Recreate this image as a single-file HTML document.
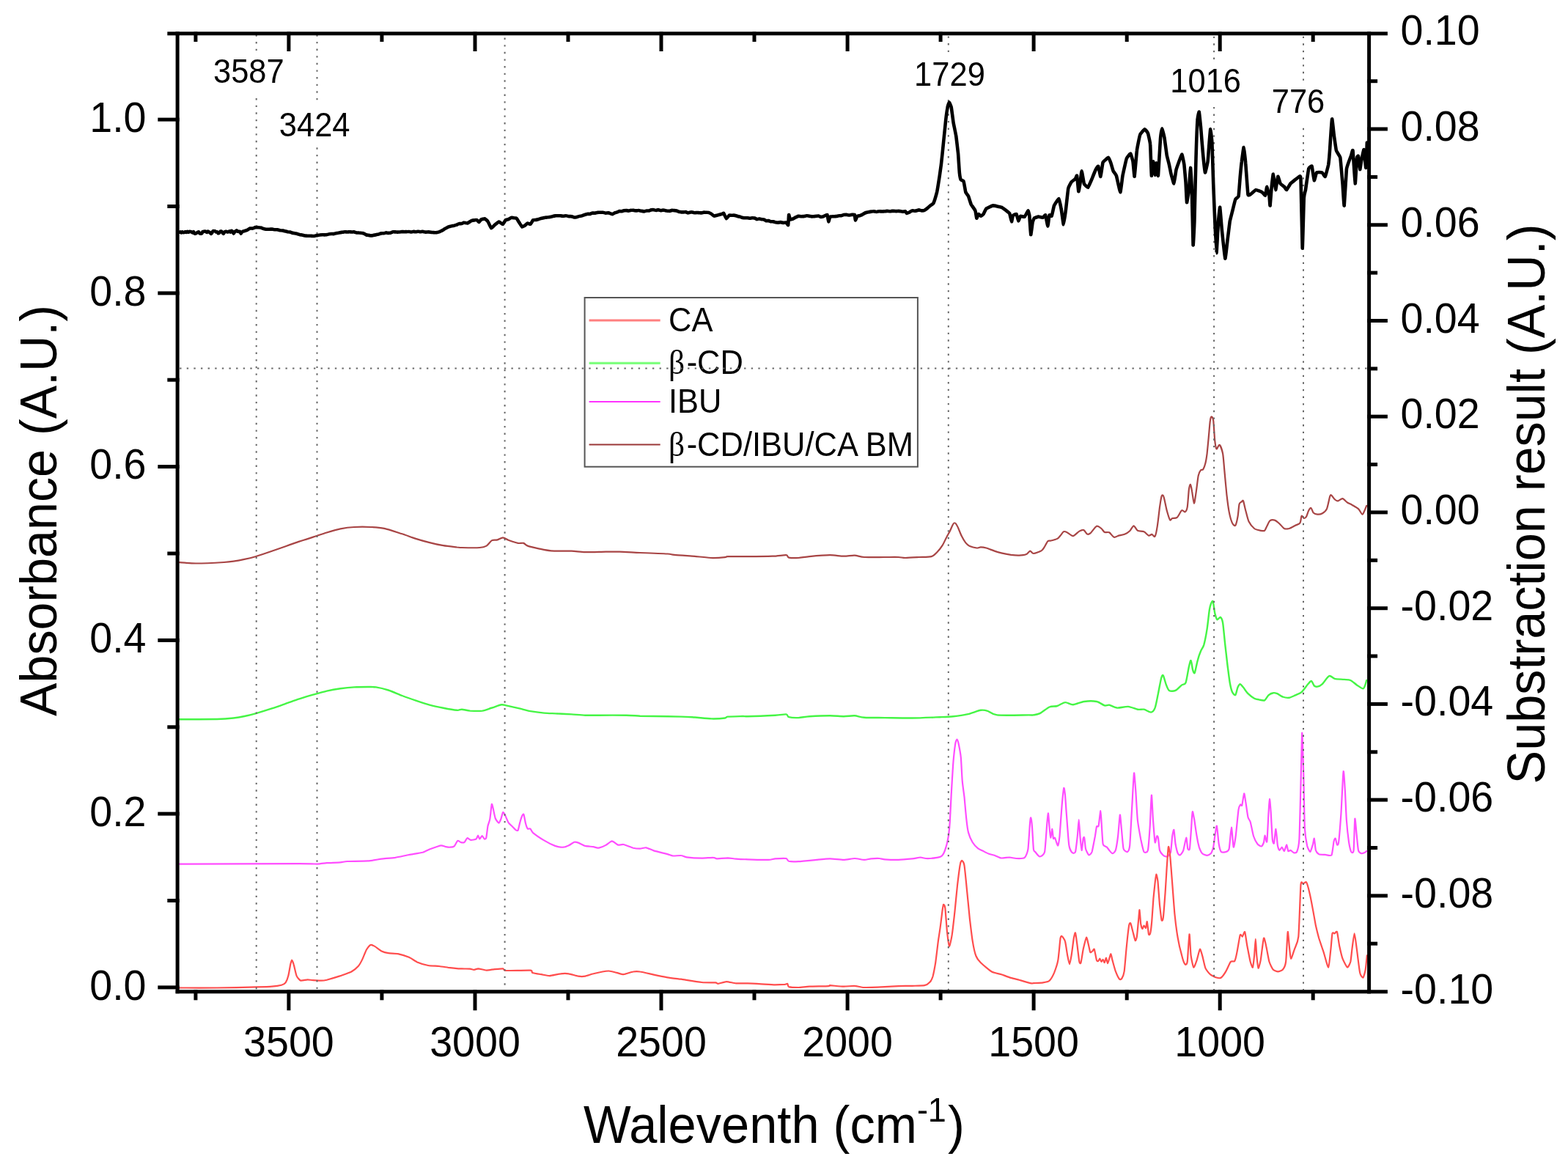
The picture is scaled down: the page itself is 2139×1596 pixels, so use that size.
<!DOCTYPE html>
<html><head><meta charset="utf-8"><title>FTIR spectra</title>
<style>
html,body{margin:0;padding:0;background:#fff;}
body{width:2139px;height:1596px;overflow:hidden;}
svg{display:block;}
text{font-family:"Liberation Sans", Arial, sans-serif;fill:#000;}
.t57{font-size:55.6px;}
.t42{font-size:43.5px;}
.t43{font-size:43.5px;}
.beta{font-family:"Liberation Serif", serif;}
.t68{font-size:68.6px;}
.sup{font-size:45px;}
.t68r{font-size:68.2px;}
.t70r{font-size:68.4px;}
</style></head>
<body>
<svg width="2139" height="1596" viewBox="0 0 2139 1596">
<rect width="100%" height="100%" fill="#fff"/>
<g>
<g fill="none" stroke-linejoin="round" stroke-linecap="round">
<path d="M244.7,767.2C247.8,767.4 259.9,768.6 268.1,768.5C276.2,768.5 298.7,767.4 305.5,767.0C312.2,766.7 314.8,766.3 318.5,765.7C322.3,765.2 329.5,763.8 333.5,762.9C337.5,762.1 343.5,760.7 348.5,759.2C353.4,757.7 365.4,753.6 370.9,751.7C376.4,749.8 384.6,746.9 389.6,745.2C394.6,743.4 403.3,740.3 408.3,738.6C413.3,737.0 422.0,734.3 427.0,732.6C432.0,731.0 440.7,728.0 445.7,726.5C450.7,725.0 459.4,722.4 464.4,721.4C469.4,720.4 477.6,719.3 483.1,719.0C488.6,718.7 500.1,718.7 505.5,719.0C511.0,719.2 518.5,719.6 524.2,720.9C530.0,722.1 542.8,726.5 548.6,728.3C554.3,730.2 562.3,733.3 567.3,734.9C572.2,736.5 581.0,738.9 586.0,740.1C590.9,741.4 599.7,743.4 604.7,744.2C609.6,745.1 620.0,746.1 623.4,746.5C626.7,746.8 625.9,747.0 630.0,747.0C634.1,747.1 649.8,747.4 654.3,747.0C658.8,746.7 661.4,745.9 663.7,744.6C665.9,743.3 669.1,738.2 671.1,737.1C673.1,736.0 676.6,736.9 678.6,736.4C680.6,735.9 684.1,733.3 686.1,733.4C688.1,733.4 690.8,735.8 693.6,736.8C696.3,737.7 703.9,740.3 706.7,740.9C709.4,741.4 712.4,740.4 714.2,740.9C715.9,741.4 717.0,743.6 719.8,744.6C722.5,745.6 730.5,747.4 734.7,748.3C739.0,749.2 745.6,750.9 751.6,751.3C757.5,751.8 773.4,751.5 779.6,751.7C785.8,752.0 792.1,753.1 798.3,753.2C804.5,753.3 820.1,752.7 826.4,752.6C832.6,752.6 838.8,752.5 845.1,752.6C851.3,752.8 864.4,753.6 873.1,754.0C881.8,754.3 904.3,755.1 910.5,755.5C916.7,755.9 914.9,756.5 919.9,756.9C924.8,757.4 940.9,758.3 947.9,758.8C954.9,759.4 966.7,760.9 972.2,761.1C977.7,761.2 986.3,760.4 989.0,760.1C991.8,759.9 989.5,759.3 992.8,759.2C996.0,759.1 1009.7,759.2 1013.4,759.2C1017.0,759.2 1014.6,759.2 1020.0,759.1C1025.4,759.1 1046.7,759.0 1053.7,758.7C1060.6,758.5 1069.4,757.0 1072.4,757.2C1075.4,757.5 1073.9,760.1 1076.1,760.6C1078.3,761.1 1085.5,761.2 1089.2,761.0C1092.9,760.8 1098.4,759.6 1104.2,759.1C1109.9,758.6 1126.0,757.3 1132.2,757.2C1138.4,757.2 1146.4,758.7 1150.9,758.7C1155.4,758.8 1162.1,757.4 1165.9,757.6C1169.6,757.8 1173.5,759.7 1179.0,760.0C1184.4,760.4 1200.8,760.0 1207.0,760.0C1213.2,760.0 1222.0,759.9 1225.7,760.0C1229.4,760.2 1231.3,761.0 1235.1,761.0C1238.8,761.0 1249.0,760.3 1253.8,760.0C1258.5,759.8 1267.3,760.0 1270.6,759.1C1273.8,758.2 1276.1,755.5 1278.1,753.5C1280.1,751.5 1283.8,746.9 1285.5,744.2C1287.3,741.4 1289.8,735.5 1291.2,732.9C1292.5,730.3 1294.7,726.8 1295.8,724.5C1297.0,722.3 1298.7,717.6 1299.6,716.1C1300.4,714.6 1301.5,713.0 1302.4,713.3C1303.2,713.5 1304.9,715.6 1306.1,718.0C1307.4,720.3 1310.2,728.1 1311.7,731.1C1313.2,734.1 1315.8,738.5 1317.3,740.4C1318.8,742.3 1321.0,744.1 1322.9,745.1C1324.9,746.0 1330.3,747.3 1332.3,747.5C1334.3,747.7 1336.2,746.4 1337.9,746.4C1339.7,746.4 1342.9,746.8 1345.4,747.5C1347.9,748.2 1353.9,750.7 1356.6,751.6C1359.3,752.6 1363.0,753.7 1366.0,754.4C1368.9,755.1 1375.8,756.4 1379.0,756.9C1382.3,757.3 1387.5,757.7 1390.3,757.6C1393.0,757.5 1397.6,757.1 1399.6,756.3C1401.6,755.5 1403.9,751.8 1405.2,751.6C1406.6,751.5 1407.8,755.1 1409.9,755.0C1412.0,754.9 1418.7,752.3 1420.8,751.1C1422.8,749.8 1423.9,747.4 1425.1,745.7C1426.2,744.0 1428.2,739.3 1429.4,738.2C1430.5,737.1 1431.9,738.0 1433.7,737.5C1435.4,737.1 1440.5,735.9 1442.3,734.9C1444.0,734.0 1445.4,731.9 1446.6,730.6C1447.7,729.4 1449.7,725.9 1450.9,725.3C1452.0,724.6 1453.4,725.1 1455.2,725.9C1456.9,726.7 1461.5,731.2 1463.8,731.1C1466.1,730.9 1470.4,725.7 1472.4,724.6C1474.3,723.6 1477.0,722.6 1478.4,723.1C1479.8,723.6 1481.9,727.9 1483.1,728.5C1484.3,729.1 1485.7,728.9 1487.4,727.4C1489.1,726.0 1494.0,718.6 1496.0,717.7C1498.0,716.9 1501.0,719.9 1502.5,721.0C1503.9,722.1 1505.3,725.2 1506.8,725.9C1508.2,726.6 1511.5,725.4 1513.2,726.3C1514.9,727.3 1518.0,732.2 1519.7,732.8C1521.4,733.4 1524.1,731.2 1526.1,730.6C1528.1,730.1 1532.7,729.4 1534.7,728.5C1536.7,727.6 1539.6,725.7 1541.2,724.2C1542.8,722.7 1545.1,717.4 1546.6,717.3C1548.0,717.3 1550.1,722.7 1551.9,723.8C1553.8,724.8 1558.5,724.4 1560.5,725.3C1562.5,726.2 1565.6,730.2 1567.0,730.6C1568.4,731.1 1570.1,728.8 1571.3,728.9C1572.4,729.1 1574.6,733.2 1575.6,731.7C1576.6,730.2 1578.0,723.0 1578.8,717.7C1579.7,712.4 1581.3,697.4 1582.0,691.9C1582.8,686.5 1583.9,678.8 1584.6,676.9C1585.3,674.9 1586.5,674.7 1587.4,677.3C1588.4,679.9 1590.6,692.0 1591.7,696.2C1592.9,700.5 1595.0,707.7 1596.0,709.1C1597.0,710.6 1598.0,707.4 1599.2,707.0C1600.5,706.6 1604.0,707.3 1605.7,705.9C1607.4,704.5 1610.7,697.2 1612.2,696.2C1613.6,695.2 1615.4,699.0 1616.5,698.4C1617.5,697.8 1619.0,695.9 1619.7,691.9C1620.4,687.9 1621.3,672.4 1621.8,668.3C1622.4,664.1 1623.4,660.5 1624.0,660.8C1624.6,661.0 1625.5,667.0 1626.1,670.4C1626.8,673.9 1628.2,686.3 1628.9,686.6C1629.6,686.8 1630.7,677.6 1631.5,672.6C1632.3,667.6 1633.9,653.1 1634.7,648.9C1635.6,644.8 1637.1,642.5 1638.0,641.4C1638.8,640.3 1640.3,641.6 1641.2,640.3C1642.0,639.0 1643.7,634.6 1644.4,631.7C1645.1,628.9 1646.0,623.4 1646.6,618.8C1647.1,614.2 1648.1,603.3 1648.7,597.3C1649.3,591.3 1650.3,577.5 1650.9,573.7C1651.4,569.8 1652.0,568.3 1652.6,568.3C1653.2,568.3 1654.5,569.2 1655.2,573.7C1655.8,578.1 1656.7,596.5 1657.3,601.6C1657.9,606.8 1658.6,611.6 1659.5,612.4C1660.3,613.1 1662.6,606.1 1663.8,607.0C1664.9,607.8 1667.2,614.4 1668.1,618.8C1668.9,623.3 1669.5,632.9 1670.2,640.3C1670.9,647.8 1672.6,667.0 1673.4,674.7C1674.3,682.5 1675.7,693.2 1676.7,698.4C1677.7,703.5 1679.8,711.0 1681.0,713.4C1682.1,715.9 1684.3,717.8 1685.3,716.7C1686.3,715.5 1687.8,708.7 1688.5,704.8C1689.2,701.0 1689.9,690.4 1690.6,687.6C1691.4,684.9 1693.2,685.0 1693.9,684.4C1694.6,683.8 1695.3,681.8 1696.0,683.3C1696.7,684.9 1698.2,692.5 1699.2,696.2C1700.3,700.0 1702.0,708.0 1703.5,711.3C1705.1,714.6 1708.9,719.3 1711.1,721.0C1713.2,722.6 1717.8,723.4 1719.7,723.8C1721.5,724.1 1723.9,724.6 1725.1,723.8C1726.2,723.0 1727.3,719.5 1728.3,717.7C1729.3,715.9 1731.1,711.3 1732.6,710.2C1734.0,709.1 1737.3,709.0 1739.0,709.6C1740.8,710.1 1743.8,713.0 1745.5,714.5C1747.2,716.0 1750.2,720.1 1751.9,721.0C1753.7,721.8 1756.4,721.5 1758.4,721.0C1760.4,720.4 1765.0,717.7 1767.0,716.7C1769.0,715.7 1772.3,715.2 1773.4,713.4C1774.6,711.7 1774.9,704.6 1775.6,703.8C1776.3,702.9 1778.0,706.8 1778.8,707.0C1779.7,707.1 1781.2,706.3 1782.0,704.8C1782.9,703.4 1784.4,697.8 1785.3,696.2C1786.1,694.7 1787.6,692.6 1788.5,693.0C1789.4,693.4 1790.6,698.3 1791.7,699.5C1792.9,700.6 1795.5,701.5 1797.1,701.6C1798.7,701.8 1801.8,701.5 1803.5,700.5C1805.3,699.5 1808.6,697.2 1810.0,694.1C1811.4,690.9 1813.4,679.3 1814.3,676.9C1815.2,674.4 1815.6,675.2 1816.5,675.8C1817.3,676.4 1819.6,680.2 1820.8,681.2C1821.9,682.2 1823.6,683.5 1825.1,683.3C1826.5,683.2 1829.8,679.8 1831.5,680.1C1833.2,680.4 1836.2,684.3 1838.0,685.5C1839.7,686.6 1842.4,687.6 1844.4,688.7C1846.4,689.9 1851.1,692.4 1853.0,694.1C1854.9,695.8 1857.2,701.3 1858.4,701.6C1859.5,701.9 1860.8,697.8 1861.6,696.2C1862.4,694.7 1863.8,690.6 1864.2,689.8" stroke="#a84545" stroke-width="2.2"/>
<path d="M244.7,981.3C251.5,981.3 286.3,981.2 296.1,981.0C305.9,980.7 313.6,980.0 318.5,979.5C323.5,979.0 329.5,977.9 333.5,977.0C337.5,976.2 343.5,974.7 348.5,973.3C353.4,971.9 365.4,968.2 370.9,966.4C376.4,964.6 384.6,961.6 389.6,959.8C394.6,958.1 403.3,954.9 408.3,953.3C413.3,951.7 422.0,949.1 427.0,947.7C432.0,946.3 440.7,943.8 445.7,942.6C450.7,941.5 459.4,940.0 464.4,939.3C469.4,938.6 478.1,937.7 483.1,937.4C488.1,937.1 497.8,937.0 501.8,937.0C505.8,937.0 509.3,936.8 513.0,937.4C516.8,938.0 525.1,940.0 529.9,941.5C534.6,943.1 543.6,947.1 548.6,949.0C553.5,950.9 562.3,954.0 567.3,955.7C572.2,957.4 581.0,960.4 586.0,961.7C590.9,963.1 599.7,964.9 604.7,965.8C609.6,966.8 620.0,968.6 623.4,968.8C626.7,969.1 627.6,967.6 630.0,967.7C632.4,967.8 637.5,969.3 641.2,969.6C645.0,969.8 654.1,970.1 658.1,969.6C662.0,969.0 667.6,966.5 671.1,965.5C674.6,964.4 681.5,961.7 684.2,961.3C687.0,961.0 688.5,962.0 691.7,962.6C695.0,963.3 704.3,965.4 708.5,966.4C712.8,967.4 719.0,969.3 723.5,970.1C728.0,970.9 737.2,972.1 742.2,972.6C747.2,973.0 755.9,973.2 760.9,973.5C765.9,973.7 774.6,974.1 779.6,974.4C784.6,974.7 793.3,975.6 798.3,975.7C803.3,975.9 809.5,975.7 817.0,975.7C824.5,975.7 846.9,975.6 854.4,975.7C861.9,975.9 868.1,976.5 873.1,976.7C878.1,976.8 884.3,976.9 891.8,977.0C899.3,977.2 921.7,977.4 929.2,977.6C936.7,977.8 942.4,978.2 947.9,978.5C953.4,978.9 964.9,980.3 970.3,980.4C975.8,980.5 986.1,979.9 989.0,979.5C992.0,979.1 989.5,977.9 992.8,977.6C996.0,977.3 1009.7,977.1 1013.4,977.0C1017.0,977.0 1014.1,977.4 1020.0,977.2C1025.9,977.1 1050.4,976.1 1057.4,975.7C1064.4,975.4 1069.9,974.1 1072.4,974.4C1074.9,974.8 1073.9,977.6 1076.1,978.2C1078.3,978.8 1085.5,979.2 1089.2,979.1C1092.9,979.0 1098.4,977.6 1104.2,977.2C1109.9,976.9 1126.0,976.3 1132.2,976.3C1138.4,976.3 1146.4,977.2 1150.9,977.2C1155.4,977.2 1162.1,976.1 1165.9,976.3C1169.6,976.5 1173.5,978.4 1179.0,978.7C1184.4,979.1 1198.3,979.0 1207.0,979.1C1215.7,979.2 1234.4,979.6 1244.4,979.5C1254.4,979.4 1274.3,978.5 1281.8,978.2C1289.3,977.9 1295.5,977.7 1300.5,977.2C1305.5,976.7 1314.2,975.6 1319.2,974.4C1324.2,973.3 1334.2,969.4 1337.9,968.8C1341.6,968.2 1344.3,968.9 1347.3,969.8C1350.2,970.6 1352.9,974.6 1360.3,975.4C1367.8,976.1 1396.7,975.4 1403.4,975.4C1410.0,975.4 1408.0,975.6 1410.0,975.3C1412.0,975.0 1415.7,974.6 1418.6,973.1C1421.5,971.7 1428.4,965.9 1431.5,964.5C1434.7,963.2 1439.4,963.9 1442.3,963.0C1445.1,962.2 1450.1,958.3 1453.0,958.1C1455.9,957.8 1460.3,961.4 1463.8,961.3C1467.2,961.1 1474.5,957.6 1478.8,957.0C1483.1,956.4 1492.3,956.3 1496.0,957.0C1499.7,957.7 1504.5,961.7 1506.8,962.4C1509.1,963.0 1510.9,961.3 1513.2,961.7C1515.5,962.2 1520.5,965.3 1524.0,965.6C1527.4,965.9 1535.3,963.6 1539.0,963.9C1542.8,964.2 1549.1,967.2 1551.9,967.7C1554.8,968.3 1558.1,967.2 1560.5,967.7C1563.0,968.3 1568.2,971.9 1570.2,971.6C1572.2,971.3 1574.3,969.0 1575.6,965.6C1576.9,962.2 1578.7,951.7 1579.9,946.2C1581.0,940.8 1583.3,928.0 1584.2,924.7C1585.1,921.4 1585.9,920.4 1586.8,921.5C1587.6,922.7 1589.6,930.6 1590.6,933.3C1591.7,936.1 1593.2,940.8 1594.9,941.9C1596.7,943.1 1601.3,942.9 1603.5,941.9C1605.8,940.9 1610.3,935.8 1612.2,934.4C1614.0,933.0 1616.2,934.5 1617.5,931.2C1618.8,927.9 1620.9,913.7 1621.8,909.7C1622.8,905.7 1623.9,900.5 1624.6,901.1C1625.3,901.6 1626.5,911.7 1627.2,914.0C1627.9,916.2 1628.9,919.6 1629.8,917.8C1630.6,916.1 1632.6,905.0 1633.7,901.1C1634.7,897.1 1636.8,891.0 1638.0,888.2C1639.1,885.3 1641.1,883.6 1642.3,879.6C1643.4,875.6 1645.6,864.4 1646.6,858.1C1647.6,851.8 1649.1,836.8 1649.8,832.3C1650.5,827.7 1651.3,825.2 1651.9,823.7C1652.6,822.1 1654.0,818.7 1654.7,820.4C1655.4,822.2 1656.5,833.3 1657.3,836.6C1658.1,839.9 1659.5,844.4 1660.5,845.2C1661.5,845.9 1663.8,841.4 1664.8,841.9C1665.8,842.5 1667.2,844.4 1668.1,849.5C1668.9,854.5 1670.4,871.8 1671.3,879.6C1672.2,887.3 1673.7,900.6 1674.5,907.5C1675.4,914.4 1676.9,926.3 1677.7,931.2C1678.6,936.1 1680.0,941.8 1681.0,944.1C1682.0,946.3 1684.3,948.8 1685.3,948.0C1686.3,947.1 1687.6,939.6 1688.5,937.6C1689.4,935.7 1690.7,933.3 1691.7,933.3C1692.7,933.3 1694.6,935.9 1696.0,937.6C1697.5,939.4 1700.5,944.2 1702.5,946.2C1704.5,948.2 1709.1,951.6 1711.1,952.7C1713.1,953.8 1715.7,954.1 1717.5,954.4C1719.4,954.8 1723.3,956.1 1725.1,955.3C1726.8,954.5 1728.9,949.7 1730.4,948.4C1732.0,947.0 1735.3,945.4 1736.9,945.2C1738.5,944.9 1740.5,945.5 1742.3,946.2C1744.0,947.0 1747.6,949.8 1749.8,950.5C1751.9,951.3 1756.1,952.1 1758.4,951.8C1760.7,951.5 1764.7,949.4 1767.0,948.4C1769.3,947.4 1773.3,946.1 1775.6,944.1C1777.9,942.1 1782.4,935.3 1784.2,933.3C1786.0,931.3 1787.8,928.7 1788.9,929.0C1790.1,929.3 1791.7,934.5 1792.8,935.5C1793.9,936.5 1795.7,936.8 1797.1,936.6C1798.5,936.3 1801.4,935.3 1803.5,933.3C1805.7,931.4 1810.9,923.2 1813.2,922.2C1815.5,921.1 1818.0,925.2 1820.8,925.8C1823.5,926.4 1830.8,926.6 1833.7,926.9C1836.5,927.2 1840.0,927.0 1842.3,928.0C1844.6,929.0 1848.6,932.9 1850.9,934.4C1853.2,935.9 1857.9,939.5 1859.5,939.4C1861.0,939.2 1862.1,934.9 1862.7,933.3C1863.3,931.8 1864.0,928.7 1864.2,928.0" stroke="#45f545" stroke-width="2.4"/>
<path d="M244.7,1178.6C261.0,1178.5 389.5,1178.2 408.3,1178.2C427.1,1178.2 428.9,1178.6 432.6,1178.6C436.4,1178.5 442.5,1177.5 445.7,1177.2C448.9,1177.0 461.6,1176.5 464.4,1176.3C467.2,1176.1 470.0,1175.2 473.8,1175.0C477.5,1174.8 497.1,1174.8 501.8,1174.4C506.5,1174.1 516.8,1172.1 520.5,1171.6C524.2,1171.2 535.5,1170.3 539.2,1169.8C542.9,1169.2 554.2,1166.7 557.9,1166.0C561.6,1165.3 573.8,1163.4 576.6,1162.7C579.4,1161.9 584.1,1159.3 586.0,1158.5C587.8,1157.8 593.7,1155.7 595.3,1155.2C596.9,1154.7 600.5,1153.3 601.9,1153.3C603.2,1153.3 607.2,1154.9 608.4,1155.2C609.6,1155.4 612.9,1155.8 614.0,1155.7C615.1,1155.7 618.6,1155.3 619.6,1154.4C620.6,1153.5 623.4,1147.5 624.3,1146.9C625.2,1146.4 628.0,1149.0 629.0,1149.2C629.9,1149.4 632.8,1149.4 633.6,1148.8C634.5,1148.2 636.5,1143.5 637.4,1143.2C638.2,1142.9 640.9,1145.7 642.2,1145.8C643.4,1146.0 648.6,1145.2 649.6,1144.5C650.6,1143.9 651.6,1139.5 652.1,1139.5C652.5,1139.5 653.7,1144.4 654.3,1144.5C654.9,1144.6 657.0,1140.2 657.7,1140.2C658.3,1140.2 660.3,1144.3 660.9,1144.5C661.4,1144.8 662.8,1144.4 663.3,1142.6C663.8,1140.9 665.0,1129.3 665.5,1126.8C666.0,1124.2 667.8,1120.4 668.3,1117.4C668.9,1114.4 670.3,1098.7 670.8,1097.2C671.2,1095.7 672.1,1100.5 672.6,1102.4C673.1,1104.4 675.0,1114.4 675.8,1116.5C676.6,1118.5 679.7,1122.5 680.5,1122.6C681.2,1122.7 682.7,1118.9 683.3,1117.4C683.9,1115.9 685.5,1108.6 686.1,1108.1C686.7,1107.5 688.2,1110.4 688.9,1111.8C689.7,1113.2 692.6,1120.5 693.6,1122.1C694.6,1123.7 698.2,1126.7 699.2,1127.7C700.2,1128.7 703.1,1131.9 703.9,1132.4C704.6,1132.8 706.1,1133.5 706.7,1132.4C707.2,1131.2 708.9,1123.1 709.5,1121.1C710.0,1119.2 711.8,1113.8 712.3,1112.7C712.8,1111.7 714.1,1109.8 714.5,1110.9C715.0,1111.9 716.4,1121.0 717.0,1123.0C717.5,1125.0 719.1,1129.7 719.8,1130.5C720.4,1131.2 722.8,1129.9 723.5,1130.5C724.2,1131.1 725.4,1134.5 727.2,1136.1C729.1,1137.7 739.2,1144.6 742.2,1146.4C745.2,1148.2 754.5,1152.9 757.2,1153.9C759.8,1154.8 766.5,1155.8 768.4,1155.7C770.3,1155.7 774.4,1154.0 775.9,1153.3C777.4,1152.6 782.0,1149.2 783.3,1148.8C784.7,1148.4 787.5,1149.1 789.0,1149.6C790.4,1150.1 796.2,1153.3 798.3,1153.9C800.4,1154.4 807.7,1154.9 809.5,1155.2C811.4,1155.5 815.3,1156.9 817.0,1156.7C818.7,1156.4 824.6,1153.9 826.4,1152.9C828.1,1152.0 833.1,1147.4 834.8,1147.3C836.5,1147.3 841.6,1152.1 843.2,1152.6C844.8,1153.0 848.6,1151.6 850.7,1152.0C852.7,1152.4 861.5,1156.1 863.8,1156.7C866.0,1157.2 871.3,1157.6 873.1,1157.6C874.9,1157.6 879.6,1156.0 881.5,1156.3C883.4,1156.6 888.9,1159.5 891.8,1160.4C894.7,1161.3 907.9,1164.4 910.5,1165.1C913.1,1165.8 916.1,1167.3 918.0,1167.5C919.9,1167.7 927.3,1166.8 929.2,1167.0C931.1,1167.1 933.9,1169.0 936.7,1169.4C939.5,1169.8 953.6,1170.7 957.3,1170.7C960.9,1170.7 971.1,1169.7 973.2,1169.8C975.2,1169.8 975.9,1171.2 977.8,1171.3C979.8,1171.3 990.2,1170.3 992.8,1170.3C995.4,1170.4 1001.3,1171.4 1004.0,1171.6C1006.7,1171.8 1015.6,1172.2 1020.0,1172.3C1024.4,1172.5 1044.3,1173.0 1048.1,1172.9C1051.8,1172.8 1055.0,1171.6 1057.4,1171.4C1059.8,1171.2 1070.5,1170.7 1072.4,1171.0C1074.2,1171.4 1074.4,1174.3 1076.1,1174.8C1077.8,1175.2 1085.5,1175.3 1089.2,1175.1C1092.9,1174.9 1109.2,1173.3 1113.5,1172.9C1117.8,1172.5 1128.5,1171.4 1132.2,1171.4C1135.9,1171.4 1147.5,1172.9 1150.9,1172.9C1154.3,1172.9 1163.1,1171.0 1165.9,1171.0C1168.7,1171.0 1176.7,1172.9 1179.0,1172.9C1181.2,1172.9 1186.2,1171.6 1188.3,1171.4C1190.4,1171.2 1197.7,1170.9 1199.5,1171.0C1201.4,1171.1 1204.4,1172.1 1207.0,1172.3C1209.6,1172.5 1222.0,1173.0 1225.7,1172.9C1229.4,1172.8 1241.4,1171.7 1244.4,1171.4C1247.4,1171.1 1253.8,1169.6 1255.6,1169.5C1257.5,1169.5 1260.9,1171.0 1263.1,1171.0C1265.3,1171.1 1275.8,1170.3 1278.1,1169.9C1280.3,1169.5 1284.3,1168.1 1285.5,1166.7C1286.8,1165.4 1289.4,1159.1 1290.2,1156.4C1291.1,1153.7 1293.4,1143.2 1294.0,1139.6C1294.5,1136.0 1295.5,1126.5 1295.8,1120.9C1296.2,1115.3 1297.2,1091.7 1297.7,1083.5C1298.2,1075.3 1299.9,1045.5 1300.5,1038.6C1301.1,1031.7 1302.8,1017.3 1303.3,1014.3C1303.8,1011.3 1305.1,1008.5 1305.6,1008.7C1306.0,1008.9 1307.5,1013.7 1308.0,1016.2C1308.5,1018.6 1310.3,1028.1 1310.8,1033.0C1311.3,1037.9 1312.2,1059.4 1312.7,1064.8C1313.1,1070.2 1314.9,1082.0 1315.5,1087.2C1316.0,1092.5 1317.7,1112.3 1318.3,1117.2C1318.8,1122.0 1320.2,1132.7 1321.1,1135.9C1321.9,1139.0 1325.4,1146.8 1326.7,1149.0C1328.0,1151.1 1332.7,1156.2 1334.2,1157.4C1335.7,1158.6 1340.1,1160.4 1341.6,1161.1C1343.1,1161.9 1347.6,1164.3 1349.1,1164.8C1350.6,1165.4 1354.9,1166.2 1356.6,1166.7C1358.3,1167.3 1363.9,1170.2 1366.0,1170.5C1368.0,1170.7 1375.1,1169.5 1377.2,1169.5C1379.2,1169.6 1384.5,1171.0 1386.5,1171.0C1388.6,1171.1 1396.2,1171.2 1397.7,1169.9C1399.3,1168.6 1401.7,1162.8 1402.4,1158.3C1403.1,1153.8 1404.5,1128.9 1404.9,1124.6C1405.2,1120.3 1405.8,1114.9 1406.2,1115.3C1406.5,1115.7 1407.7,1124.1 1408.0,1128.4C1408.4,1132.7 1409.5,1154.9 1409.9,1158.3C1410.3,1161.7 1411.3,1161.0 1412.2,1162.0C1413.0,1163.1 1417.3,1168.5 1418.6,1168.5C1419.9,1168.5 1424.1,1166.6 1425.1,1162.0C1426.0,1157.5 1427.8,1128.6 1428.3,1123.3C1428.8,1118.1 1429.7,1108.9 1430.0,1109.4C1430.3,1109.8 1431.2,1124.3 1431.5,1127.6C1431.8,1131.0 1432.8,1142.4 1433.2,1142.7C1433.6,1143.0 1435.0,1130.8 1435.4,1130.9C1435.7,1131.0 1436.5,1142.6 1436.9,1143.8C1437.2,1144.9 1438.6,1142.2 1439.0,1142.7C1439.5,1143.2 1440.8,1148.1 1441.2,1149.1C1441.6,1150.2 1442.9,1154.3 1443.3,1153.4C1443.8,1152.6 1444.9,1146.1 1445.5,1140.5C1446.0,1134.9 1448.1,1104.1 1448.7,1097.5C1449.3,1091.0 1450.9,1076.2 1451.3,1074.9C1451.7,1073.7 1452.6,1080.6 1453.0,1084.6C1453.4,1088.6 1454.6,1107.8 1455.2,1114.7C1455.7,1121.6 1457.6,1148.6 1458.4,1153.4C1459.1,1158.3 1461.8,1162.3 1462.7,1163.1C1463.5,1164.0 1466.3,1164.3 1467.0,1162.0C1467.7,1159.8 1469.3,1144.9 1469.8,1140.5C1470.3,1136.1 1471.4,1118.0 1471.7,1118.0C1472.1,1118.0 1473.1,1136.3 1473.4,1140.5C1473.8,1144.7 1475.2,1159.6 1475.6,1159.9C1476.0,1160.2 1477.4,1145.5 1477.7,1143.8C1478.1,1142.0 1478.9,1141.3 1479.2,1142.7C1479.6,1144.1 1480.4,1155.4 1481.0,1157.7C1481.6,1160.1 1484.4,1165.9 1485.3,1166.3C1486.1,1166.8 1488.7,1164.6 1489.6,1162.0C1490.4,1159.5 1493.2,1144.0 1493.9,1140.5C1494.5,1137.1 1495.5,1129.0 1496.0,1127.6C1496.5,1126.2 1498.1,1128.7 1498.6,1126.6C1499.1,1124.4 1501.0,1106.0 1501.4,1106.1C1501.8,1106.2 1502.6,1123.1 1502.9,1127.6C1503.2,1132.2 1504.1,1148.6 1504.6,1151.3C1505.1,1154.0 1507.3,1154.1 1507.8,1154.5C1508.4,1154.9 1509.5,1155.1 1510.0,1155.6C1510.5,1156.1 1512.5,1159.0 1513.2,1159.9C1514.0,1160.8 1516.7,1164.2 1517.5,1164.2C1518.4,1164.2 1521.1,1162.3 1521.8,1159.9C1522.6,1157.5 1524.5,1145.4 1525.1,1140.5C1525.7,1135.7 1527.4,1112.4 1527.8,1111.5C1528.3,1110.6 1529.5,1127.3 1530.0,1131.9C1530.5,1136.6 1531.8,1154.7 1532.6,1157.7C1533.4,1160.8 1537.1,1162.5 1538.0,1162.0C1538.8,1161.6 1540.5,1159.9 1541.2,1153.4C1541.8,1147.0 1543.8,1107.4 1544.4,1097.5C1545.0,1087.6 1546.5,1056.2 1547.0,1054.5C1547.5,1052.8 1548.9,1073.9 1549.4,1080.3C1549.8,1086.8 1551.2,1112.6 1551.9,1119.0C1552.6,1125.5 1555.4,1140.5 1556.2,1144.8C1557.1,1149.1 1559.6,1160.5 1560.5,1162.0C1561.5,1163.5 1565.1,1163.3 1565.9,1159.9C1566.7,1156.5 1568.2,1135.2 1568.7,1127.6C1569.2,1120.1 1570.4,1085.5 1570.9,1084.6C1571.3,1083.8 1572.5,1112.6 1573.0,1119.0C1573.5,1125.5 1575.1,1147.0 1575.6,1149.1C1576.1,1151.3 1577.7,1141.2 1578.2,1140.5C1578.6,1139.9 1579.5,1140.8 1579.9,1142.7C1580.3,1144.6 1581.4,1157.5 1582.0,1159.9C1582.7,1162.3 1585.5,1165.5 1586.3,1166.3C1587.2,1167.2 1589.9,1168.4 1590.6,1168.5C1591.4,1168.6 1593.2,1168.1 1593.9,1167.4C1594.5,1166.8 1596.6,1164.7 1597.1,1162.0C1597.6,1159.4 1598.8,1143.5 1599.2,1140.5C1599.7,1137.5 1601.0,1130.9 1601.4,1131.9C1601.8,1133.0 1603.0,1148.1 1603.5,1151.3C1604.1,1154.5 1606.1,1162.7 1606.8,1164.2C1607.4,1165.7 1609.2,1166.8 1610.0,1166.3C1610.8,1165.9 1613.5,1162.3 1614.3,1159.9C1615.1,1157.5 1617.6,1142.9 1618.2,1142.7C1618.8,1142.5 1619.8,1156.2 1620.3,1157.7C1620.8,1159.2 1622.4,1160.5 1622.9,1157.7C1623.4,1154.9 1624.7,1134.8 1625.1,1129.8C1625.4,1124.7 1626.3,1108.3 1626.8,1107.2C1627.2,1106.1 1628.8,1115.7 1629.4,1119.0C1629.9,1122.4 1631.9,1136.9 1632.6,1140.5C1633.2,1144.2 1635.1,1153.2 1635.8,1155.6C1636.6,1158.0 1639.0,1163.1 1640.1,1164.2C1641.2,1165.3 1645.4,1166.8 1646.6,1166.8C1647.7,1166.8 1651.1,1165.3 1651.9,1164.2C1652.8,1163.1 1654.6,1158.0 1655.2,1155.6C1655.7,1153.2 1656.8,1143.4 1657.3,1140.5C1657.8,1137.6 1659.4,1125.5 1659.9,1126.6C1660.4,1127.6 1662.1,1147.7 1662.7,1151.3C1663.3,1154.8 1664.9,1161.0 1665.9,1162.0C1666.9,1163.1 1671.3,1162.5 1672.4,1162.0C1673.4,1161.6 1675.9,1161.1 1676.7,1157.7C1677.4,1154.4 1679.3,1128.9 1679.9,1128.7C1680.5,1128.5 1682.1,1154.4 1682.7,1155.6C1683.3,1156.8 1685.0,1145.7 1685.7,1140.5C1686.4,1135.4 1688.9,1108.3 1689.6,1104.0C1690.2,1099.7 1691.7,1098.1 1692.2,1097.5C1692.6,1097.0 1693.8,1100.1 1694.3,1098.6C1694.8,1097.1 1696.6,1083.0 1697.1,1082.5C1697.6,1081.9 1698.7,1090.0 1699.2,1093.2C1699.8,1096.5 1701.8,1111.9 1702.5,1114.7C1703.1,1117.5 1704.9,1118.6 1705.7,1121.2C1706.5,1123.8 1709.0,1137.5 1710.0,1140.5C1711.0,1143.5 1714.3,1149.9 1715.4,1151.3C1716.5,1152.7 1719.9,1154.7 1720.8,1154.5C1721.6,1154.3 1723.5,1150.6 1724.0,1149.1C1724.5,1147.6 1725.1,1139.6 1725.5,1139.5C1725.9,1139.4 1727.8,1151.0 1728.3,1148.1C1728.8,1145.2 1730.1,1116.2 1730.4,1110.4C1730.8,1104.6 1731.6,1090.2 1731.9,1090.0C1732.3,1089.8 1733.3,1102.8 1733.7,1108.3C1734.0,1113.8 1735.4,1140.6 1735.8,1144.8C1736.2,1149.0 1737.5,1151.6 1738.0,1150.2C1738.4,1148.8 1740.0,1130.5 1740.5,1130.9C1741.0,1131.2 1742.4,1150.5 1742.9,1153.4C1743.4,1156.3 1744.9,1159.7 1745.5,1159.9C1746.1,1160.1 1748.1,1155.5 1748.7,1155.6C1749.4,1155.7 1751.3,1161.3 1751.9,1161.0C1752.6,1160.6 1754.6,1152.4 1755.2,1152.4C1755.7,1152.4 1756.8,1160.2 1757.3,1161.0C1757.8,1161.7 1759.8,1159.7 1760.5,1159.9C1761.3,1160.1 1764.0,1162.9 1764.8,1163.1C1765.7,1163.3 1768.4,1163.9 1769.1,1162.0C1769.9,1160.2 1771.8,1154.1 1772.4,1144.8C1772.9,1135.6 1774.1,1084.1 1774.5,1069.6C1774.9,1055.1 1775.9,1001.2 1776.2,999.7C1776.6,998.2 1777.8,1041.5 1778.2,1054.5C1778.5,1067.5 1779.4,1119.9 1779.9,1129.8C1780.4,1139.7 1782.4,1150.2 1783.1,1153.4C1783.9,1156.7 1786.6,1162.3 1787.4,1162.0C1788.2,1161.8 1790.5,1153.1 1791.1,1151.3C1791.6,1149.5 1792.4,1142.9 1792.8,1143.8C1793.2,1144.6 1794.3,1157.7 1794.9,1159.9C1795.6,1162.0 1798.0,1164.7 1799.2,1165.3C1800.5,1165.9 1806.1,1165.8 1807.8,1165.9C1809.6,1166.0 1815.3,1168.2 1816.5,1166.3C1817.6,1164.5 1819.1,1149.2 1819.7,1147.0C1820.2,1144.7 1821.4,1143.2 1821.8,1143.8C1822.3,1144.3 1823.5,1151.8 1824.0,1152.4C1824.4,1152.9 1825.6,1153.3 1826.1,1149.1C1826.7,1144.9 1828.7,1120.1 1829.4,1110.4C1830.0,1100.8 1832.0,1055.8 1832.6,1052.4C1833.1,1048.9 1834.3,1069.4 1834.7,1076.0C1835.2,1082.7 1836.3,1111.7 1836.9,1119.0C1837.4,1126.3 1839.5,1144.8 1840.1,1149.1C1840.8,1153.4 1842.7,1161.0 1843.3,1162.0C1844.0,1163.1 1846.1,1164.4 1846.6,1159.9C1847.1,1155.4 1847.9,1119.2 1848.3,1116.9C1848.7,1114.5 1850.0,1131.9 1850.4,1136.2C1850.9,1140.5 1852.3,1157.1 1853.0,1159.9C1853.7,1162.7 1856.5,1163.9 1857.3,1164.2C1858.2,1164.5 1860.9,1163.4 1861.6,1163.1C1862.3,1162.8 1863.9,1161.2 1864.2,1161.0" stroke="#ff4dff" stroke-width="2.2"/>
<path d="M244.7,1347.5C249.8,1347.5 285.5,1347.6 296.1,1347.5C306.7,1347.4 342.9,1346.6 350.3,1346.4C357.8,1346.2 367.5,1345.9 370.9,1345.6C374.3,1345.4 382.1,1344.3 384.0,1343.8C385.9,1343.3 388.7,1341.7 389.6,1340.4C390.5,1339.1 392.7,1333.5 393.3,1331.1C394.0,1328.6 395.7,1318.3 396.1,1316.1C396.6,1314.0 397.6,1309.6 398.0,1309.6C398.5,1309.6 400.2,1314.0 400.8,1316.1C401.5,1318.3 403.6,1328.9 404.6,1331.1C405.5,1333.2 408.7,1337.1 410.2,1337.6C411.7,1338.1 417.8,1336.3 419.5,1336.3C421.2,1336.3 425.1,1337.1 427.0,1337.2C428.9,1337.4 436.4,1337.7 438.2,1337.6C440.1,1337.6 443.1,1337.3 445.7,1336.7C448.3,1336.0 461.0,1332.2 464.4,1331.1C467.8,1329.9 476.9,1326.8 479.4,1325.5C481.8,1324.1 487.2,1319.7 488.7,1318.0C490.2,1316.3 493.2,1310.9 494.3,1308.6C495.4,1306.4 498.8,1297.5 499.9,1295.5C501.1,1293.6 504.4,1289.5 505.5,1289.0C506.7,1288.5 509.7,1290.0 511.2,1290.9C512.7,1291.7 518.6,1296.5 520.5,1297.4C522.4,1298.3 527.6,1299.8 529.9,1300.2C532.1,1300.6 540.1,1300.6 542.9,1301.1C545.8,1301.7 555.3,1304.7 557.9,1305.8C560.5,1306.9 566.5,1311.2 569.1,1312.4C571.7,1313.5 581.1,1316.5 584.1,1317.0C587.1,1317.6 596.1,1317.7 599.0,1318.0C602.0,1318.3 611.4,1319.9 614.0,1320.2C616.6,1320.6 623.6,1321.2 625.2,1321.3C626.8,1321.4 628.4,1321.3 630.0,1321.3C631.6,1321.4 639.5,1321.6 641.2,1321.7C642.9,1321.9 645.7,1322.9 646.8,1322.8C648.0,1322.8 650.8,1321.3 652.4,1321.3C654.1,1321.4 661.4,1323.5 663.7,1323.6C665.9,1323.7 672.6,1322.3 674.9,1322.1C677.1,1321.9 684.6,1321.2 686.1,1321.3C687.6,1321.5 686.1,1323.7 689.8,1324.0C693.6,1324.2 719.9,1323.3 723.5,1323.6C727.1,1323.9 724.8,1326.4 726.3,1326.9C727.8,1327.5 736.1,1328.8 738.5,1329.2C740.8,1329.6 747.1,1331.2 749.7,1331.1C752.3,1331.0 762.0,1328.5 764.6,1328.3C767.3,1328.0 773.4,1327.9 775.9,1328.3C778.3,1328.6 786.7,1331.3 789.0,1331.6C791.2,1332.0 796.2,1332.0 798.3,1331.6C800.4,1331.3 806.3,1329.0 809.5,1328.3C812.7,1327.5 826.9,1324.6 830.1,1324.5C833.3,1324.4 839.3,1326.5 841.3,1326.9C843.4,1327.4 848.4,1329.3 850.7,1329.2C852.9,1329.0 861.5,1325.8 863.8,1325.5C866.0,1325.1 870.3,1325.0 873.1,1325.5C875.9,1325.9 888.1,1328.8 891.8,1329.6C895.5,1330.4 906.8,1332.7 910.5,1333.3C914.2,1333.9 924.5,1335.1 929.2,1335.7C933.9,1336.4 952.6,1339.6 957.3,1340.0C961.9,1340.5 973.7,1340.2 976.0,1340.4C978.2,1340.6 978.2,1342.0 979.7,1341.9C981.2,1341.8 988.5,1339.2 990.9,1339.1C993.3,1339.0 1001.1,1341.1 1004.0,1341.3C1006.9,1341.6 1016.5,1341.3 1020.0,1341.4C1023.5,1341.5 1035.0,1342.1 1038.7,1342.3C1042.4,1342.5 1054.2,1343.2 1057.4,1343.3C1060.6,1343.3 1068.8,1343.0 1070.5,1342.9C1072.2,1342.7 1073.7,1341.4 1074.2,1341.8C1074.8,1342.1 1074.6,1345.5 1076.1,1346.1C1077.6,1346.6 1086.4,1347.0 1089.2,1347.0C1092.0,1347.0 1100.0,1345.9 1104.2,1345.7C1108.3,1345.5 1127.5,1345.3 1130.3,1345.1C1133.1,1345.0 1130.1,1344.1 1132.2,1344.2C1134.3,1344.3 1147.5,1345.6 1150.9,1345.7C1154.3,1345.8 1163.1,1344.6 1165.9,1344.8C1168.7,1344.9 1174.8,1346.9 1179.0,1347.0C1183.1,1347.1 1202.3,1346.3 1207.0,1346.1C1211.7,1345.9 1222.0,1345.3 1225.7,1345.1C1229.4,1345.0 1240.9,1344.9 1244.4,1344.8C1248.0,1344.7 1258.8,1344.7 1261.2,1344.2C1263.7,1343.7 1267.6,1340.7 1268.7,1339.5C1269.8,1338.3 1271.7,1334.7 1272.5,1332.0C1273.2,1329.4 1275.4,1318.2 1276.2,1313.3C1276.9,1308.5 1279.3,1288.3 1279.9,1283.4C1280.6,1278.6 1282.2,1268.8 1282.7,1264.7C1283.3,1260.6 1285.1,1245.4 1285.5,1242.3C1286.0,1239.2 1286.7,1234.2 1287.0,1233.9C1287.4,1233.5 1288.8,1234.7 1289.3,1238.5C1289.8,1242.4 1291.5,1267.0 1292.1,1272.2C1292.7,1277.4 1294.2,1290.5 1294.9,1290.9C1295.5,1291.3 1297.9,1280.6 1298.6,1275.9C1299.4,1271.3 1301.6,1251.1 1302.4,1244.2C1303.1,1237.2 1305.4,1213.3 1306.1,1206.8C1306.9,1200.2 1309.2,1182.0 1309.9,1178.7C1310.5,1175.4 1311.7,1173.8 1312.3,1174.0C1312.8,1174.2 1314.8,1176.4 1315.5,1180.6C1316.2,1184.8 1318.5,1208.8 1319.2,1216.1C1320.0,1223.4 1322.2,1246.8 1322.9,1253.5C1323.7,1260.2 1325.8,1278.4 1326.7,1283.4C1327.5,1288.5 1330.2,1301.0 1331.4,1304.0C1332.5,1307.0 1335.8,1311.2 1337.9,1313.3C1340.1,1315.5 1350.1,1323.9 1352.9,1325.5C1355.7,1327.1 1363.3,1328.4 1366.0,1329.2C1368.6,1330.1 1376.6,1333.2 1379.0,1333.9C1381.5,1334.7 1387.5,1336.0 1390.3,1336.7C1393.1,1337.5 1405.1,1341.0 1407.1,1341.4C1409.1,1341.8 1408.4,1341.2 1410.0,1341.1C1411.6,1341.0 1420.8,1340.8 1422.9,1340.4C1425.1,1340.1 1430.0,1339.2 1431.5,1337.8C1433.0,1336.5 1436.8,1329.9 1438.0,1327.1C1439.1,1324.3 1442.5,1314.6 1443.3,1309.9C1444.2,1305.2 1446.0,1283.1 1446.6,1279.8C1447.1,1276.5 1448.1,1276.8 1448.7,1277.2C1449.4,1277.6 1452.3,1281.5 1453.0,1284.1C1453.8,1286.7 1455.6,1300.3 1456.2,1303.4C1456.8,1306.6 1458.5,1315.3 1459.0,1315.3C1459.6,1315.3 1461.0,1307.0 1461.6,1303.4C1462.2,1299.9 1464.3,1282.9 1464.8,1279.8C1465.4,1276.7 1466.6,1271.6 1467.0,1272.3C1467.4,1272.9 1468.6,1282.3 1469.1,1286.2C1469.7,1290.2 1471.8,1309.4 1472.4,1312.0C1472.9,1314.7 1474.0,1314.8 1474.5,1313.1C1475.1,1311.4 1477.0,1298.3 1477.7,1294.8C1478.5,1291.4 1481.3,1279.1 1482.0,1278.7C1482.8,1278.3 1484.7,1288.5 1485.3,1290.5C1485.8,1292.6 1486.9,1298.5 1487.4,1299.1C1488.0,1299.8 1490.1,1297.4 1490.6,1297.0C1491.2,1296.6 1492.3,1293.5 1492.8,1294.8C1493.3,1296.1 1495.5,1308.3 1496.0,1309.9C1496.6,1311.5 1497.7,1311.2 1498.2,1311.0C1498.6,1310.8 1499.9,1307.6 1500.3,1307.7C1500.8,1307.8 1502.0,1311.9 1502.5,1312.0C1502.9,1312.2 1504.2,1308.7 1504.6,1308.8C1505.1,1308.9 1506.3,1313.3 1506.8,1313.1C1507.2,1312.9 1508.5,1306.6 1508.9,1306.7C1509.4,1306.8 1510.6,1314.1 1511.1,1314.2C1511.5,1314.3 1512.8,1309.0 1513.2,1307.7C1513.7,1306.5 1514.9,1301.1 1515.4,1301.3C1515.8,1301.5 1516.9,1307.5 1517.5,1309.9C1518.2,1312.3 1520.9,1322.4 1521.8,1324.9C1522.8,1327.5 1526.3,1334.7 1527.2,1335.7C1528.1,1336.7 1529.8,1335.7 1530.4,1334.6C1531.1,1333.5 1533.0,1329.4 1533.7,1324.9C1534.3,1320.5 1536.2,1296.8 1536.9,1290.5C1537.5,1284.3 1539.6,1265.7 1540.1,1262.6C1540.6,1259.5 1541.7,1258.5 1542.3,1259.4C1542.8,1260.2 1544.8,1268.8 1545.5,1271.2C1546.1,1273.5 1548.2,1282.4 1548.7,1283.0C1549.2,1283.7 1550.4,1280.3 1550.9,1277.6C1551.3,1274.9 1552.6,1259.8 1553.0,1256.1C1553.4,1252.5 1554.2,1240.6 1554.5,1241.1C1554.8,1241.5 1555.8,1257.8 1556.2,1260.4C1556.6,1263.0 1558.0,1266.7 1558.4,1266.9C1558.8,1267.1 1560.1,1262.7 1560.5,1262.6C1561.0,1262.5 1562.7,1266.3 1563.1,1265.8C1563.5,1265.3 1564.5,1256.3 1564.8,1257.2C1565.2,1258.1 1566.6,1272.8 1567.0,1274.4C1567.4,1276.0 1568.7,1275.2 1569.1,1273.3C1569.6,1271.5 1570.9,1260.9 1571.3,1256.1C1571.7,1251.4 1573.0,1231.2 1573.4,1226.0C1573.9,1220.9 1575.2,1207.8 1575.6,1204.5C1576.0,1201.2 1576.9,1192.9 1577.3,1192.7C1577.7,1192.5 1579.0,1198.2 1579.5,1202.4C1579.9,1206.6 1581.5,1229.4 1582.0,1234.6C1582.6,1239.9 1584.2,1253.3 1584.6,1255.1C1585.1,1256.8 1586.3,1255.6 1586.8,1251.8C1587.3,1248.1 1589.1,1224.3 1589.6,1217.4C1590.1,1210.5 1591.3,1189.2 1591.7,1183.0C1592.2,1176.8 1593.4,1156.8 1593.9,1155.1C1594.3,1153.3 1595.5,1161.3 1596.0,1165.8C1596.5,1170.3 1598.2,1192.0 1598.8,1200.2C1599.5,1208.4 1601.7,1239.6 1602.5,1247.5C1603.3,1255.5 1605.8,1274.2 1606.8,1279.8C1607.7,1285.4 1611.2,1299.9 1612.2,1303.4C1613.1,1307.0 1615.7,1314.4 1616.5,1315.3C1617.2,1316.1 1619.1,1316.1 1619.7,1312.0C1620.3,1308.0 1622.0,1275.3 1622.5,1274.4C1623.0,1273.5 1624.0,1298.9 1624.6,1303.4C1625.2,1308.0 1627.5,1318.9 1628.3,1319.6C1629.1,1320.2 1631.7,1312.4 1632.6,1309.9C1633.4,1307.4 1636.1,1295.5 1636.9,1294.8C1637.6,1294.2 1639.4,1300.9 1640.1,1303.4C1640.9,1306.0 1643.3,1318.1 1644.4,1320.6C1645.5,1323.2 1649.4,1328.0 1650.9,1329.2C1652.4,1330.5 1658.0,1333.1 1659.5,1333.5C1661.0,1334.0 1664.6,1334.4 1665.9,1333.5C1667.2,1332.7 1671.1,1327.1 1672.4,1324.9C1673.7,1322.8 1677.6,1313.4 1678.8,1312.0C1680.0,1310.6 1683.3,1312.3 1684.2,1311.0C1685.1,1309.7 1686.7,1302.7 1687.4,1299.1C1688.2,1295.6 1691.0,1277.6 1691.7,1275.5C1692.5,1273.3 1694.3,1278.1 1694.9,1277.6C1695.6,1277.2 1697.5,1269.9 1698.2,1271.2C1698.8,1272.5 1700.6,1286.5 1701.4,1290.5C1702.2,1294.6 1704.9,1309.1 1705.7,1312.0C1706.5,1314.9 1708.4,1320.4 1708.9,1319.6C1709.5,1318.7 1710.7,1307.3 1711.1,1303.4C1711.5,1299.6 1712.5,1280.9 1712.8,1280.9C1713.1,1280.9 1713.9,1299.5 1714.3,1303.4C1714.7,1307.4 1715.9,1320.0 1716.5,1320.6C1717.0,1321.3 1718.9,1314.0 1719.7,1309.9C1720.4,1305.8 1723.2,1281.7 1724.0,1279.8C1724.7,1277.8 1726.5,1287.3 1727.2,1290.5C1728.0,1293.8 1730.5,1308.8 1731.5,1312.0C1732.5,1315.3 1735.7,1321.5 1736.9,1322.8C1738.1,1324.1 1742.0,1325.4 1743.3,1325.4C1744.6,1325.4 1748.7,1324.1 1749.8,1322.8C1750.9,1321.5 1753.4,1317.2 1754.1,1312.0C1754.8,1306.9 1756.2,1273.3 1756.7,1271.2C1757.1,1269.0 1758.4,1286.9 1758.8,1290.5C1759.2,1294.2 1760.3,1307.3 1761.0,1307.7C1761.7,1308.2 1764.9,1297.8 1765.9,1294.8C1766.9,1291.8 1770.4,1286.5 1771.3,1277.6C1772.2,1268.8 1773.9,1213.9 1774.5,1206.7C1775.2,1199.5 1777.0,1205.9 1777.7,1205.6C1778.5,1205.3 1781.2,1202.3 1782.0,1203.4C1782.9,1204.6 1785.5,1213.9 1786.3,1217.4C1787.2,1221.0 1789.8,1234.4 1790.6,1238.9C1791.5,1243.4 1794.1,1258.5 1794.9,1262.6C1795.8,1266.7 1798.2,1276.1 1799.2,1279.8C1800.3,1283.4 1804.4,1295.2 1805.7,1299.1C1807.0,1303.1 1811.2,1320.0 1812.2,1319.6C1813.1,1319.1 1814.8,1299.5 1815.4,1294.8C1815.9,1290.2 1817.0,1275.5 1817.5,1273.3C1818.1,1271.2 1820.1,1273.5 1820.8,1273.3C1821.4,1273.1 1823.3,1269.5 1824.0,1271.2C1824.6,1272.9 1826.5,1286.9 1827.2,1290.5C1828.0,1294.2 1830.4,1304.8 1831.5,1307.7C1832.6,1310.6 1836.9,1319.1 1838.0,1319.6C1839.0,1320.0 1841.6,1314.5 1842.3,1312.0C1842.9,1309.6 1843.9,1298.7 1844.4,1294.8C1844.9,1291.0 1847.0,1273.3 1847.6,1273.3C1848.3,1273.3 1850.1,1289.5 1850.9,1294.8C1851.6,1300.2 1854.3,1323.2 1855.2,1327.1C1856.0,1331.0 1858.7,1334.0 1859.5,1333.5C1860.2,1333.1 1862.2,1325.8 1862.7,1322.8C1863.2,1319.8 1864.6,1305.4 1864.8,1303.4" stroke="#ff4d4d" stroke-width="2.2"/>
</g>
<rect x="797.6" y="406" width="454.3" height="230.7" fill="none" stroke="#555" stroke-width="2"/>
<line x1="803.6" y1="437.0" x2="900.7" y2="437.0" stroke="#ff7f7f" stroke-width="3.2"/>
<text transform="translate(912.0,451.9) scale(1,1.045)" class="t43">CA</text>
<line x1="803.6" y1="495.4" x2="900.7" y2="495.4" stroke="#7fff7f" stroke-width="3.2"/>
<text transform="translate(912.0,509.6) scale(1,1.045)" class="t43"><tspan class="beta">&#946;</tspan><tspan dx="2.5">-CD</tspan></text>
<line x1="803.6" y1="548.0" x2="900.7" y2="548.0" stroke="#ff33ff" stroke-width="2.2"/>
<text transform="translate(912.0,563.0) scale(1,1.045)" class="t43">IBU</text>
<line x1="803.6" y1="606.5" x2="900.7" y2="606.5" stroke="#9a3838" stroke-width="2.2"/>
<text transform="translate(912.0,621.8) scale(1,1.045)" class="t43"><tspan class="beta">&#946;</tspan><tspan dx="2.5">-CD/IBU/CA BM</tspan></text>
<g stroke="#666" stroke-width="2" fill="none">
<line x1="349.7" y1="45.8" x2="349.7" y2="1350.3" stroke-dasharray="2.4 7.225" stroke-dashoffset="8.05"/>
<line x1="432.5" y1="45.8" x2="432.5" y2="1350.3" stroke-dasharray="2.4 7.225" stroke-dashoffset="8.15"/>
<line x1="688.6" y1="45.8" x2="688.6" y2="1350.3" stroke-dasharray="2.4 7.225" stroke-dashoffset="3.85"/>
<line x1="1293.8" y1="45.8" x2="1293.8" y2="1350.3" stroke-dasharray="2.4 7.225" stroke-dashoffset="6.05"/>
<line x1="1656.1" y1="45.8" x2="1656.1" y2="1350.3" stroke-dasharray="2.4 7.225" stroke-dashoffset="5.75"/>
<line x1="1778.0" y1="45.8" x2="1778.0" y2="1350.3" stroke-dasharray="2.4 7.225" stroke-dashoffset="5.75"/>
<line x1="244.6" y1="502.5" x2="1865.1" y2="502.5" stroke-dasharray="2.4 7.225" stroke-dashoffset="9.15"/>
</g>
<g fill="none" stroke-linejoin="round" stroke-linecap="round">
<path d="M244.5,316.8C244.6,316.8 245.8,316.4 245.9,316.4C246.0,316.4 247.2,317.5 247.3,317.5C247.4,317.5 248.6,316.2 248.7,316.2C248.8,316.1 250.0,317.1 250.1,317.2C250.2,317.2 251.4,316.8 251.5,316.7C251.6,316.7 252.8,316.0 252.9,316.0C253.0,316.1 254.2,317.0 254.3,317.0C254.4,317.0 255.6,315.9 255.7,315.9C255.8,315.9 257.0,316.8 257.1,316.8C257.2,316.8 258.4,316.0 258.5,315.9C258.6,315.9 259.8,315.9 259.9,316.0C260.0,316.0 261.2,316.6 261.3,316.7C261.4,316.7 262.6,317.5 262.7,317.5C262.8,317.5 264.0,316.0 264.1,316.1C264.2,316.1 265.4,318.4 265.5,318.5C265.6,318.6 266.8,318.8 266.9,318.7C267.0,318.7 268.2,317.7 268.3,317.6C268.4,317.6 269.6,316.9 269.7,316.8C269.8,316.7 271.0,316.3 271.1,316.4C271.2,316.5 272.4,318.3 272.5,318.4C272.6,318.5 273.8,318.6 273.9,318.6C274.0,318.6 275.2,318.5 275.3,318.4C275.4,318.3 276.6,316.1 276.7,316.0C276.8,315.9 278.0,315.7 278.1,315.7C278.2,315.6 279.4,315.6 279.5,315.6C279.6,315.6 280.8,315.9 280.9,316.0C281.0,316.0 282.2,317.1 282.3,317.0C282.4,317.0 283.6,315.6 283.7,315.6C283.8,315.6 285.0,316.4 285.1,316.5C285.2,316.5 286.4,317.2 286.5,317.4C286.6,317.5 287.8,319.0 287.9,319.0C288.0,319.0 289.2,317.6 289.3,317.4C289.4,317.2 290.6,315.3 290.7,315.2C290.8,315.1 292.0,315.1 292.1,315.2C292.2,315.2 293.4,315.4 293.5,315.4C293.6,315.5 294.8,316.4 294.9,316.5C295.0,316.5 296.2,316.3 296.3,316.4C296.4,316.4 297.6,318.2 297.7,318.3C297.8,318.4 299.0,317.7 299.1,317.6C299.2,317.5 300.4,315.9 300.5,315.8C300.6,315.7 301.8,315.4 301.9,315.5C302.0,315.5 303.2,316.8 303.3,317.0C303.4,317.2 304.6,319.0 304.7,319.0C304.8,319.0 306.0,316.8 306.1,316.7C306.2,316.5 307.4,316.0 307.5,315.9C307.6,315.9 308.8,315.8 308.9,315.8C309.0,315.8 310.2,316.5 310.3,316.5C310.4,316.6 311.6,316.3 311.7,316.2C311.8,316.1 313.0,315.2 313.1,315.2C313.2,315.2 314.4,316.7 314.5,316.7C314.6,316.7 315.8,314.8 315.9,314.7C316.0,314.7 317.2,315.7 317.3,315.9C317.4,316.1 318.6,318.8 318.7,318.8C318.8,318.8 320.0,316.3 320.1,316.2C320.2,316.0 321.4,315.5 321.5,315.4C321.6,315.3 322.8,314.4 322.9,314.4C323.0,314.4 324.2,315.7 324.3,315.8C324.4,315.8 325.6,316.0 325.7,315.9C325.8,315.9 327.0,315.5 327.1,315.7C327.2,315.8 328.4,318.5 328.5,318.5C328.6,318.6 329.8,316.8 329.9,316.6C330.0,316.5 331.2,315.7 331.3,315.7C331.4,315.6 332.4,315.5 332.7,315.4C333.0,315.3 336.4,314.2 336.8,314.0C337.3,313.8 340.6,311.6 341.0,311.5C341.4,311.4 344.3,311.7 344.7,311.6C345.1,311.5 348.1,310.2 348.5,310.1C348.8,310.0 351.8,310.2 352.2,310.2C352.6,310.2 355.6,310.5 355.9,310.6C356.3,310.7 359.3,312.0 359.7,312.1C360.1,312.2 363.0,312.6 363.4,312.7C363.8,312.7 366.8,312.7 367.2,312.7C367.5,312.7 370.5,312.6 370.9,312.6C371.3,312.7 374.3,313.3 374.6,313.3C375.0,313.3 378.0,313.3 378.4,313.3C378.8,313.4 381.7,314.1 382.1,314.2C382.5,314.2 385.5,314.4 385.9,314.5C386.2,314.6 388.8,315.3 389.1,315.4C389.5,315.5 392.1,316.1 392.4,316.2C392.7,316.2 395.4,316.4 395.7,316.5C396.0,316.6 398.6,317.6 399.0,317.7C399.3,317.8 401.9,318.2 402.2,318.3C402.6,318.4 405.2,318.9 405.5,319.0C405.8,319.0 408.4,320.0 408.8,320.1C409.1,320.1 411.7,320.4 412.0,320.5C412.4,320.6 415.4,321.4 415.8,321.5C416.2,321.5 419.1,321.8 419.5,321.8C419.9,321.8 422.9,321.7 423.3,321.7C423.6,321.7 426.7,322.0 427.0,322.0C427.3,322.0 429.8,321.7 430.1,321.6C430.4,321.6 432.9,321.1 433.2,321.1C433.5,321.0 436.0,320.5 436.4,320.5C436.7,320.4 439.2,320.2 439.5,320.2C439.8,320.2 442.3,320.4 442.6,320.4C442.9,320.4 445.4,320.2 445.7,320.1C446.0,320.1 448.5,319.5 448.8,319.4C449.1,319.3 451.6,319.0 451.9,319.0C452.2,319.0 454.7,319.1 455.1,319.1C455.4,319.0 457.9,318.2 458.2,318.2C458.5,318.1 461.0,317.7 461.3,317.7C461.6,317.6 464.1,317.2 464.4,317.1C464.7,317.1 467.2,316.7 467.5,316.7C467.8,316.6 470.3,316.3 470.6,316.3C470.9,316.3 473.4,316.5 473.8,316.5C474.1,316.5 476.6,316.2 476.9,316.2C477.2,316.2 479.7,316.5 480.0,316.5C480.3,316.5 482.8,316.3 483.1,316.4C483.4,316.4 485.9,317.4 486.2,317.4C486.5,317.5 489.0,317.4 489.3,317.5C489.6,317.5 492.1,317.6 492.5,317.7C492.8,317.7 495.4,318.1 495.7,318.2C496.1,318.4 498.7,319.9 499.0,320.0C499.3,320.2 501.9,320.8 502.3,320.8C502.6,320.9 505.2,321.4 505.5,321.4C505.9,321.4 508.9,321.0 509.3,320.9C509.7,320.9 512.7,320.4 513.0,320.3C513.4,320.2 516.4,319.5 516.8,319.4C517.1,319.3 520.2,318.3 520.5,318.2C520.8,318.2 523.3,318.3 523.6,318.3C523.9,318.2 526.4,317.5 526.7,317.4C527.1,317.4 529.5,317.9 529.9,317.9C530.2,317.9 532.7,317.6 533.0,317.6C533.3,317.5 535.8,316.3 536.1,316.3C536.4,316.2 538.9,316.4 539.2,316.4C539.5,316.4 542.0,316.6 542.3,316.6C542.6,316.6 545.1,316.5 545.4,316.5C545.8,316.5 548.2,316.2 548.6,316.1C548.9,316.1 551.4,316.2 551.7,316.2C552.0,316.2 554.5,316.1 554.8,316.1C555.1,316.0 557.6,316.0 557.9,316.0C558.2,316.0 560.7,316.5 561.0,316.5C561.3,316.5 563.8,316.0 564.1,315.9C564.5,315.9 566.9,316.3 567.3,316.3C567.6,316.3 570.1,315.7 570.4,315.7C570.7,315.7 573.2,316.3 573.5,316.3C573.8,316.3 576.3,315.8 576.6,315.8C576.9,315.8 580.0,316.6 580.3,316.6C580.7,316.7 583.7,316.4 584.1,316.4C584.5,316.4 587.5,316.8 587.8,316.9C588.2,316.9 591.2,317.1 591.6,317.1C591.9,317.1 594.9,317.3 595.3,317.3C595.7,317.2 598.7,316.5 599.0,316.4C599.4,316.2 602.4,314.8 602.8,314.6C603.2,314.4 606.2,312.5 606.5,312.2C606.9,312.0 609.9,310.4 610.3,310.2C610.6,310.0 613.2,309.0 613.5,308.9C613.9,308.8 616.5,308.2 616.8,308.1C617.1,308.1 619.8,307.7 620.1,307.6C620.4,307.6 623.0,306.6 623.4,306.5C623.7,306.3 626.2,305.2 626.5,305.1C626.8,305.1 629.3,305.2 629.6,305.1C629.9,305.0 632.3,303.7 632.7,303.7C633.1,303.6 637.0,304.6 637.5,304.5C638.0,304.4 642.6,301.3 643.1,301.1C643.6,300.9 646.5,300.4 646.8,300.4C647.2,300.3 650.2,300.1 650.6,300.2C650.9,300.3 653.1,303.0 653.4,303.0C653.7,303.0 655.8,299.9 656.2,299.6C656.6,299.4 660.9,298.2 661.4,298.3C661.9,298.5 665.1,301.4 665.5,302.1C666.0,302.7 669.7,311.2 670.2,311.4C670.7,311.7 674.4,307.2 674.9,306.8C675.4,306.3 680.0,302.7 680.5,302.6C681.0,302.5 684.0,304.7 684.2,304.9C684.5,305.0 685.8,306.0 686.1,305.8C686.4,305.6 689.5,300.5 689.8,300.2C690.2,299.9 693.2,299.3 693.6,299.1C694.0,299.0 696.9,297.1 697.3,297.0C697.7,296.9 700.7,297.2 701.1,297.3C701.4,297.3 704.4,297.6 704.8,298.0C705.2,298.3 708.2,303.4 708.5,303.9C708.9,304.5 711.9,309.4 712.3,309.6C712.7,309.7 715.6,307.9 716.0,307.7C716.4,307.4 719.4,304.6 719.8,304.5C720.1,304.4 723.1,306.0 723.5,305.8C723.9,305.6 726.9,300.5 727.2,300.2C727.6,299.9 730.6,300.0 731.0,300.0C731.4,299.9 734.3,299.0 734.7,298.9C735.1,298.8 738.1,297.9 738.5,297.8C738.8,297.7 741.9,297.1 742.2,297.0C742.5,297.0 745.0,296.6 745.3,296.6C745.6,296.5 748.1,296.3 748.4,296.3C748.7,296.2 751.2,295.8 751.6,295.7C751.9,295.7 754.4,295.0 754.7,294.9C755.0,294.9 757.5,294.4 757.8,294.3C758.1,294.3 760.6,294.2 760.9,294.2C761.2,294.2 764.3,294.2 764.6,294.2C765.0,294.3 768.0,294.7 768.4,294.7C768.8,294.7 771.7,294.2 772.1,294.2C772.5,294.2 775.5,295.1 775.9,295.1C776.2,295.2 779.2,295.1 779.6,295.2C780.0,295.3 783.0,296.4 783.3,296.5C783.7,296.5 786.7,296.0 787.1,295.9C787.5,295.8 790.4,295.0 790.8,294.9C791.2,294.8 794.2,294.3 794.6,294.1C794.9,294.0 797.9,292.8 798.3,292.7C798.7,292.6 801.3,291.8 801.7,291.8C802.0,291.8 804.7,292.0 805.0,291.9C805.4,291.8 808.1,290.6 808.4,290.5C808.7,290.5 811.4,290.7 811.8,290.7C812.1,290.6 814.8,290.0 815.1,289.9C815.5,289.9 818.5,289.7 818.9,289.7C819.2,289.7 822.2,289.7 822.6,289.8C823.0,289.8 826.0,290.6 826.4,290.7C826.7,290.7 829.6,290.2 830.1,290.3C830.6,290.4 835.3,292.2 835.7,292.2C836.1,292.2 838.5,290.5 838.8,290.3C839.1,290.2 841.6,289.6 841.9,289.4C842.2,289.3 844.7,288.1 845.1,288.1C845.4,288.0 847.9,288.3 848.2,288.3C848.5,288.2 851.0,287.4 851.3,287.3C851.6,287.2 854.1,287.0 854.4,287.0C854.7,287.1 857.2,287.6 857.5,287.6C857.8,287.6 860.3,286.9 860.6,286.9C860.9,286.8 863.4,286.7 863.8,286.7C864.1,286.8 867.1,287.4 867.5,287.4C867.9,287.4 870.9,287.0 871.2,287.0C871.6,287.0 874.6,287.8 875.0,287.8C875.3,287.9 878.4,288.4 878.7,288.4C879.1,288.4 881.7,287.5 882.0,287.5C882.3,287.4 884.9,287.6 885.3,287.5C885.6,287.4 888.2,286.3 888.5,286.2C888.9,286.2 891.5,286.1 891.8,286.2C892.1,286.2 894.6,287.0 894.9,287.0C895.2,287.0 897.7,286.1 898.0,286.1C898.3,286.1 900.8,287.2 901.2,287.2C901.5,287.2 904.0,286.6 904.3,286.6C904.6,286.6 907.1,287.1 907.4,287.1C907.7,287.2 910.2,287.6 910.5,287.7C910.8,287.7 913.3,287.9 913.6,287.9C913.9,287.8 916.4,286.9 916.7,286.9C917.1,286.9 919.5,287.1 919.9,287.1C920.2,287.1 922.7,287.4 923.0,287.5C923.3,287.6 925.8,288.7 926.1,288.8C926.4,288.9 928.9,289.3 929.2,289.4C929.5,289.4 932.0,289.4 932.3,289.4C932.6,289.4 935.1,289.1 935.4,289.1C935.8,289.2 938.2,290.4 938.6,290.4C938.9,290.4 941.4,289.6 941.7,289.6C942.0,289.5 944.5,289.5 944.8,289.6C945.1,289.6 947.6,290.3 947.9,290.3C948.2,290.3 950.7,290.0 951.0,290.0C951.3,290.0 953.8,290.3 954.1,290.3C954.5,290.3 956.9,290.4 957.3,290.4C957.6,290.4 960.1,289.6 960.4,289.6C960.7,289.6 963.2,289.8 963.5,289.8C963.8,289.8 966.3,289.8 966.6,289.9C966.9,290.0 970.0,291.5 970.3,291.7C970.7,291.9 973.6,294.5 974.1,294.6C974.6,294.7 979.1,293.4 979.7,293.3C980.3,293.1 984.9,291.9 985.3,291.8C985.7,291.7 986.9,290.5 987.2,290.9C987.5,291.2 990.5,298.2 990.9,298.3C991.3,298.5 994.3,293.9 994.7,293.7C995.0,293.4 997.5,293.8 997.8,293.8C998.1,293.8 1000.6,293.6 1000.9,293.6C1001.2,293.6 1003.7,294.1 1004.0,294.2C1004.3,294.3 1006.8,295.1 1007.1,295.2C1007.4,295.3 1009.9,295.8 1010.2,295.9C1010.6,296.0 1013.0,297.0 1013.4,297.0C1013.7,297.1 1016.3,297.3 1016.7,297.3C1017.0,297.3 1019.7,297.3 1020.0,297.3C1020.3,297.3 1022.8,297.8 1023.1,297.8C1023.4,297.8 1025.9,297.2 1026.2,297.2C1026.5,297.2 1029.0,297.3 1029.4,297.4C1029.7,297.5 1032.2,299.0 1032.5,299.1C1032.8,299.1 1035.3,298.4 1035.6,298.5C1035.9,298.5 1038.4,299.1 1038.7,299.1C1039.0,299.2 1041.6,299.3 1041.9,299.4C1042.2,299.5 1044.8,301.1 1045.1,301.2C1045.4,301.3 1048.0,301.0 1048.3,301.0C1048.6,301.1 1051.2,302.2 1051.5,302.3C1051.8,302.3 1054.4,302.3 1054.7,302.3C1055.0,302.4 1057.6,303.2 1057.9,303.2C1058.3,303.3 1060.8,303.6 1061.1,303.6C1061.5,303.6 1064.5,303.1 1064.9,303.1C1065.3,303.1 1068.2,303.8 1068.6,303.9C1069.0,303.9 1072.0,303.5 1072.4,303.6C1072.7,303.8 1075.0,307.5 1075.2,307.0C1075.4,306.5 1076.0,293.4 1076.1,293.0C1076.2,292.6 1077.7,299.2 1078.0,299.5C1078.3,299.8 1081.3,298.7 1081.7,298.6C1082.1,298.4 1085.1,296.6 1085.5,296.4C1085.8,296.3 1088.8,294.9 1089.2,294.8C1089.6,294.8 1092.6,295.2 1092.9,295.2C1093.3,295.2 1096.3,295.2 1096.7,295.1C1097.0,295.1 1100.0,294.2 1100.4,294.2C1100.8,294.1 1103.8,294.8 1104.2,294.8C1104.5,294.9 1107.0,295.3 1107.3,295.4C1107.6,295.4 1110.1,295.2 1110.4,295.2C1110.7,295.2 1113.2,294.8 1113.5,294.8C1113.8,294.8 1116.3,294.4 1116.6,294.5C1116.9,294.5 1119.4,295.9 1119.7,295.9C1120.0,295.9 1122.4,295.6 1122.9,295.4C1123.3,295.3 1128.1,292.6 1128.5,293.0C1128.8,293.3 1130.1,302.2 1130.3,302.3C1130.5,302.5 1132.0,296.1 1132.2,295.8C1132.5,295.4 1135.0,295.3 1135.3,295.3C1135.6,295.2 1138.1,295.2 1138.4,295.2C1138.7,295.2 1141.2,295.0 1141.6,295.0C1141.9,294.9 1144.4,294.3 1144.7,294.3C1145.0,294.2 1147.5,294.2 1147.8,294.1C1148.1,294.1 1150.6,293.0 1150.9,293.0C1151.2,292.9 1154.3,292.8 1154.6,292.8C1155.0,292.8 1158.0,293.5 1158.4,293.5C1158.8,293.5 1161.7,292.9 1162.1,292.9C1162.5,292.9 1165.6,292.6 1165.9,293.0C1166.1,293.4 1166.6,300.4 1166.8,300.5C1167.0,300.6 1169.3,295.2 1169.6,294.8C1169.9,294.5 1172.4,294.4 1172.7,294.3C1173.0,294.2 1175.5,293.1 1175.8,293.0C1176.1,292.8 1178.6,291.3 1179.0,291.1C1179.3,290.9 1181.9,289.9 1182.2,289.8C1182.6,289.7 1185.2,289.2 1185.5,289.1C1185.8,289.1 1188.4,288.6 1188.8,288.6C1189.1,288.5 1191.7,288.3 1192.0,288.3C1192.4,288.3 1195.4,289.1 1195.8,289.0C1196.2,289.0 1199.1,288.2 1199.5,288.2C1199.9,288.2 1202.9,288.5 1203.3,288.5C1203.6,288.5 1206.7,288.3 1207.0,288.3C1207.3,288.3 1209.8,287.9 1210.1,287.9C1210.4,287.9 1212.9,288.2 1213.2,288.2C1213.5,288.2 1216.0,288.0 1216.4,287.9C1216.7,287.9 1219.2,287.8 1219.5,287.8C1219.8,287.8 1222.3,288.1 1222.6,288.1C1222.9,288.1 1225.4,287.9 1225.7,287.9C1226.0,287.9 1228.5,288.1 1228.8,288.2C1229.1,288.2 1231.6,288.8 1231.9,288.8C1232.2,288.8 1234.8,288.2 1235.1,288.3C1235.3,288.4 1236.6,291.0 1236.9,291.1C1237.2,291.2 1240.3,289.7 1240.7,289.5C1241.0,289.3 1244.1,287.5 1244.4,287.4C1244.7,287.3 1247.2,287.7 1247.5,287.7C1247.8,287.7 1250.3,287.4 1250.6,287.3C1250.9,287.2 1253.4,286.4 1253.8,286.4C1254.1,286.4 1257.1,287.4 1257.5,287.4C1257.9,287.4 1260.9,287.0 1261.2,286.8C1261.6,286.6 1264.6,284.4 1265.0,284.1C1265.3,283.8 1268.3,281.2 1268.7,280.8C1269.1,280.5 1272.9,278.0 1273.4,277.1C1273.9,276.1 1277.6,264.0 1278.1,262.1C1278.5,260.3 1281.4,242.3 1281.8,239.7C1282.2,237.1 1285.2,213.1 1285.5,209.8C1285.9,206.4 1288.9,175.5 1289.3,172.4C1289.6,169.2 1292.4,147.8 1292.7,146.2C1292.9,144.5 1294.6,139.6 1294.9,139.6C1295.1,139.6 1297.4,144.8 1297.7,146.2C1298.0,147.5 1300.2,164.8 1300.5,166.8C1300.8,168.7 1303.9,183.3 1304.2,185.5C1304.6,187.6 1306.8,207.2 1307.1,209.8C1307.3,212.3 1308.7,234.2 1308.9,235.9C1309.1,237.7 1310.5,244.7 1310.8,245.3C1311.1,245.9 1314.2,246.3 1314.5,247.2C1314.9,248.0 1317.0,261.1 1317.3,262.1C1317.7,263.2 1320.7,266.9 1321.1,267.7C1321.4,268.6 1324.3,278.0 1324.8,279.0C1325.3,279.9 1330.1,286.4 1330.4,287.4C1330.8,288.3 1332.1,297.4 1332.3,297.7C1332.5,297.9 1334.8,292.2 1335.1,292.0C1335.4,291.9 1337.6,294.8 1337.9,294.8C1338.2,294.8 1341.3,292.6 1341.6,292.0C1342.0,291.5 1344.7,285.1 1345.4,284.6C1346.0,284.0 1353.7,280.5 1354.7,280.4C1355.8,280.4 1365.1,282.4 1366.0,282.7C1366.8,283.0 1371.0,286.0 1371.6,286.4C1372.1,286.9 1376.8,290.3 1377.2,291.1C1377.6,291.9 1379.7,302.2 1380.0,302.3C1380.2,302.5 1381.5,294.4 1381.9,293.9C1382.2,293.4 1386.2,291.7 1386.5,292.0C1386.9,292.4 1389.1,301.3 1389.3,301.4C1389.6,301.5 1391.7,295.1 1392.1,294.8C1392.6,294.6 1397.2,296.2 1397.7,295.8C1398.3,295.4 1402.1,287.5 1402.4,287.4C1402.7,287.3 1404.1,292.3 1404.3,293.9C1404.5,295.5 1405.9,319.6 1406.2,320.1C1406.4,320.6 1408.4,304.4 1408.6,303.3C1408.8,302.1 1410.4,298.0 1410.8,297.7C1411.2,297.3 1415.8,295.6 1416.5,295.6C1417.1,295.5 1422.4,296.8 1422.9,296.7C1423.4,296.6 1425.8,292.8 1426.1,293.4C1426.5,294.0 1429.1,308.5 1429.4,308.5C1429.6,308.5 1431.2,294.1 1431.5,293.4C1431.8,292.7 1434.4,295.2 1434.7,294.5C1435.1,293.9 1437.5,281.7 1438.0,280.5C1438.4,279.4 1443.9,270.6 1444.4,270.9C1444.9,271.1 1447.3,283.1 1447.6,284.8C1448.0,286.6 1450.5,306.3 1450.9,306.3C1451.2,306.3 1453.8,287.3 1454.1,284.8C1454.4,282.4 1456.9,258.7 1457.3,256.9C1457.7,255.1 1461.1,248.9 1461.6,248.3C1462.1,247.6 1466.6,244.4 1467.0,244.0C1467.4,243.5 1468.9,238.8 1469.1,239.7C1469.4,240.5 1471.1,260.6 1471.3,261.2C1471.5,261.7 1473.2,251.8 1473.4,250.4C1473.7,249.0 1475.3,233.2 1475.6,233.2C1475.9,233.2 1478.4,249.3 1478.8,250.4C1479.2,251.6 1483.7,256.1 1484.2,255.8C1484.7,255.5 1489.0,245.2 1489.6,244.0C1490.1,242.7 1494.5,231.9 1494.9,231.1C1495.4,230.2 1497.8,226.3 1498.2,226.8C1498.5,227.3 1501.1,241.0 1501.4,240.8C1501.7,240.5 1504.1,222.7 1504.6,221.4C1505.2,220.1 1511.6,214.9 1512.2,214.9C1512.7,215.0 1515.1,221.6 1515.4,222.5C1515.7,223.4 1518.2,232.4 1518.6,233.2C1519.0,234.1 1522.4,238.2 1522.9,239.7C1523.4,241.1 1527.8,262.3 1528.3,262.3C1528.7,262.3 1531.1,242.0 1531.5,239.7C1531.9,237.4 1536.3,217.5 1536.9,216.0C1537.4,214.5 1541.8,209.4 1542.3,209.6C1542.7,209.8 1545.2,218.8 1545.5,220.3C1545.8,221.9 1547.4,241.5 1547.6,240.8C1547.9,240.0 1550.5,208.1 1550.9,205.3C1551.2,202.4 1554.6,185.2 1555.2,183.8C1555.7,182.3 1561.1,176.3 1561.6,176.2C1562.2,176.1 1565.5,180.6 1565.9,181.6C1566.3,182.6 1568.9,193.8 1569.1,196.7C1569.4,199.6 1570.6,238.5 1570.9,239.7C1571.1,240.9 1573.2,220.4 1573.4,220.3C1573.7,220.3 1575.4,238.5 1575.6,238.6C1575.8,238.7 1577.5,222.4 1577.7,222.5C1578.0,222.5 1579.6,241.4 1579.9,239.7C1580.2,238.0 1582.8,191.3 1583.1,188.1C1583.4,184.8 1585.0,175.2 1585.3,175.2C1585.5,175.2 1588.2,186.2 1588.5,188.1C1588.8,189.9 1591.4,209.9 1591.7,211.7C1592.0,213.5 1594.7,223.4 1594.9,224.6C1595.2,225.8 1596.8,234.1 1597.1,235.4C1597.4,236.7 1601.0,250.6 1601.4,250.4C1601.8,250.2 1604.1,233.1 1604.6,231.1C1605.2,229.1 1611.6,211.0 1612.2,210.6C1612.7,210.3 1615.1,222.7 1615.4,224.6C1615.6,226.5 1617.3,245.7 1617.5,248.3C1617.7,250.9 1618.8,275.7 1619.0,276.2C1619.2,276.8 1621.6,261.4 1621.8,259.0C1622.1,256.7 1623.8,229.1 1624.0,228.9C1624.2,228.7 1625.5,249.5 1625.7,254.7C1625.9,260.0 1627.5,331.9 1627.6,334.3C1627.8,336.7 1629.2,308.0 1629.4,302.0C1629.5,296.1 1631.3,223.0 1631.5,216.0C1631.7,209.0 1633.4,165.4 1633.7,162.3C1633.9,159.1 1635.6,152.0 1635.8,152.6C1636.0,153.1 1637.7,170.1 1638.0,173.0C1638.2,176.0 1640.9,208.6 1641.2,211.7C1641.5,214.8 1643.7,234.9 1644.0,235.4C1644.3,235.8 1647.3,222.5 1647.6,220.3C1647.9,218.2 1649.6,194.6 1649.8,192.4C1650.0,190.2 1651.1,176.1 1651.3,176.2C1651.5,176.3 1653.2,190.8 1653.4,194.5C1653.6,198.2 1655.0,245.1 1655.2,250.4C1655.4,255.8 1657.1,297.3 1657.3,302.0C1657.5,306.8 1659.2,345.1 1659.5,345.1C1659.7,345.1 1661.8,305.2 1662.0,302.0C1662.3,298.9 1663.9,282.0 1664.2,282.7C1664.4,283.3 1666.6,311.5 1667.0,314.9C1667.3,318.4 1670.9,351.9 1671.3,352.6C1671.7,353.2 1674.2,330.4 1674.5,327.8C1674.8,325.3 1677.4,304.2 1677.7,302.0C1678.1,299.9 1681.7,286.3 1682.0,284.8C1682.4,283.3 1684.9,272.8 1685.3,271.9C1685.6,271.1 1689.2,269.1 1689.6,267.6C1689.9,266.1 1691.5,244.2 1691.7,241.8C1691.9,239.5 1693.6,222.4 1693.9,220.3C1694.1,218.3 1696.4,200.9 1696.7,201.0C1696.9,201.1 1699.0,219.2 1699.2,222.5C1699.5,225.7 1702.1,263.4 1702.5,265.5C1702.8,267.6 1706.2,264.7 1706.8,264.4C1707.3,264.1 1712.5,259.1 1713.2,259.0C1714.0,258.9 1721.2,261.9 1721.8,262.3C1722.5,262.6 1725.8,266.9 1726.1,266.6C1726.5,266.2 1728.0,254.7 1728.3,254.7C1728.5,254.8 1731.3,266.3 1731.5,267.6C1731.7,268.9 1732.4,281.2 1732.6,280.5C1732.7,279.9 1734.5,256.9 1734.7,254.7C1734.9,252.6 1736.6,237.3 1736.9,237.5C1737.2,237.7 1739.8,258.9 1740.1,259.0C1740.4,259.2 1743.0,241.2 1743.3,240.8C1743.7,240.3 1746.1,249.7 1746.6,250.4C1747.0,251.1 1751.5,254.3 1751.9,254.7C1752.4,255.2 1754.7,259.2 1755.2,259.0C1755.6,258.8 1759.7,251.3 1760.5,250.4C1761.4,249.5 1771.7,241.1 1772.4,240.8C1773.1,240.4 1774.3,239.1 1774.5,244.0C1774.7,248.9 1776.5,337.3 1776.7,338.6C1776.9,339.9 1778.6,273.8 1778.8,269.8C1779.0,265.8 1780.6,261.0 1781.0,259.0C1781.3,257.0 1784.8,231.6 1785.3,230.0C1785.7,228.4 1789.2,226.0 1789.6,226.8C1789.9,227.6 1792.5,245.7 1792.8,246.1C1793.1,246.6 1795.5,235.9 1796.0,235.4C1796.6,234.8 1803.0,235.1 1803.5,235.4C1804.1,235.6 1807.4,241.3 1807.8,240.8C1808.3,240.2 1811.8,226.6 1812.2,224.6C1812.5,222.6 1814.1,204.1 1814.3,201.0C1814.5,197.8 1816.8,163.1 1817.1,162.3C1817.4,161.4 1819.4,181.6 1819.7,183.8C1820.0,185.9 1822.5,203.7 1822.9,205.3C1823.3,206.8 1827.8,212.7 1828.3,214.9C1828.7,217.2 1831.2,247.2 1831.5,250.4C1831.8,253.7 1833.4,281.5 1833.7,280.5C1833.9,279.6 1836.6,234.1 1836.9,231.1C1837.2,228.1 1839.8,221.3 1840.1,220.3C1840.4,219.4 1843.1,212.5 1843.3,211.7C1843.6,211.0 1845.2,203.3 1845.5,205.3C1845.8,207.2 1848.4,249.9 1848.7,250.4C1849.0,251.0 1850.6,217.9 1850.9,216.0C1851.1,214.1 1852.8,212.0 1853.0,212.8C1853.2,213.5 1854.9,230.8 1855.2,231.1C1855.4,231.3 1857.0,219.5 1857.3,218.2C1857.6,216.8 1860.2,203.7 1860.5,204.2C1860.8,204.7 1863.1,229.4 1863.3,228.9C1863.5,228.4 1864.8,196.2 1864.8,194.5" stroke="#000000" stroke-width="4.6"/>
</g>
<rect x="285" y="70" width="110" height="61" fill="#fff"/>
<rect x="375" y="137" width="110" height="62" fill="#fff"/>
<rect x="1240" y="73" width="110" height="62" fill="#fff"/>
<rect x="1590" y="83" width="110" height="62" fill="#fff"/>
<rect x="1733" y="110" width="76" height="62" fill="#fff"/>
<text transform="translate(291.0,112.7) scale(1,1.045)" class="t42">3587</text>
<text transform="translate(380.8,186.3) scale(1,1.045)" class="t42">3424</text>
<text transform="translate(1247.1,116.7) scale(1,1.045)" class="t42">1729</text>
<text transform="translate(1596.3,125.7) scale(1,1.045)" class="t42">1016</text>
<text transform="translate(1734.7,153.9) scale(1,1.045)" class="t42">776</text>
<g stroke="#000" stroke-width="5.0" stroke-linecap="square" fill="none">
<line x1="242.1" y1="45.8" x2="1867.6" y2="45.8"/>
<line x1="242.1" y1="1352.8" x2="1867.6" y2="1352.8"/>
<line x1="242.1" y1="45.8" x2="242.1" y2="1352.8"/>
<line x1="1867.6" y1="45.8" x2="1867.6" y2="1352.8"/>
<line x1="266.9" y1="1352.8" x2="266.9" y2="1361.8"/>
<line x1="266.9" y1="45.8" x2="266.9" y2="54.5"/>
<line x1="393.9" y1="1352.8" x2="393.9" y2="1375.8"/>
<line x1="393.9" y1="45.8" x2="393.9" y2="67.5"/>
<line x1="520.9" y1="1352.8" x2="520.9" y2="1361.8"/>
<line x1="520.9" y1="45.8" x2="520.9" y2="54.5"/>
<line x1="648.0" y1="1352.8" x2="648.0" y2="1375.8"/>
<line x1="648.0" y1="45.8" x2="648.0" y2="67.5"/>
<line x1="775.0" y1="1352.8" x2="775.0" y2="1361.8"/>
<line x1="775.0" y1="45.8" x2="775.0" y2="54.5"/>
<line x1="902.0" y1="1352.8" x2="902.0" y2="1375.8"/>
<line x1="902.0" y1="45.8" x2="902.0" y2="67.5"/>
<line x1="1029.0" y1="1352.8" x2="1029.0" y2="1361.8"/>
<line x1="1029.0" y1="45.8" x2="1029.0" y2="54.5"/>
<line x1="1156.1" y1="1352.8" x2="1156.1" y2="1375.8"/>
<line x1="1156.1" y1="45.8" x2="1156.1" y2="67.5"/>
<line x1="1283.1" y1="1352.8" x2="1283.1" y2="1361.8"/>
<line x1="1283.1" y1="45.8" x2="1283.1" y2="54.5"/>
<line x1="1410.1" y1="1352.8" x2="1410.1" y2="1375.8"/>
<line x1="1410.1" y1="45.8" x2="1410.1" y2="67.5"/>
<line x1="1537.2" y1="1352.8" x2="1537.2" y2="1361.8"/>
<line x1="1537.2" y1="45.8" x2="1537.2" y2="54.5"/>
<line x1="1664.2" y1="1352.8" x2="1664.2" y2="1375.8"/>
<line x1="1664.2" y1="45.8" x2="1664.2" y2="67.5"/>
<line x1="1791.2" y1="1352.8" x2="1791.2" y2="1361.8"/>
<line x1="1791.2" y1="45.8" x2="1791.2" y2="54.5"/>
<line x1="217.8" y1="1346.9" x2="242.1" y2="1346.9"/>
<line x1="230.8" y1="1228.5" x2="242.1" y2="1228.5"/>
<line x1="217.8" y1="1110.1" x2="242.1" y2="1110.1"/>
<line x1="230.8" y1="991.8" x2="242.1" y2="991.8"/>
<line x1="217.8" y1="873.4" x2="242.1" y2="873.4"/>
<line x1="230.8" y1="755.0" x2="242.1" y2="755.0"/>
<line x1="217.8" y1="636.6" x2="242.1" y2="636.6"/>
<line x1="230.8" y1="518.2" x2="242.1" y2="518.2"/>
<line x1="217.8" y1="399.9" x2="242.1" y2="399.9"/>
<line x1="230.8" y1="281.5" x2="242.1" y2="281.5"/>
<line x1="217.8" y1="163.1" x2="242.1" y2="163.1"/>
<line x1="230.8" y1="45.8" x2="242.1" y2="45.8"/>
<line x1="1867.6" y1="1352.8" x2="1890.4" y2="1352.8"/>
<line x1="1867.6" y1="1287.2" x2="1876.6" y2="1287.2"/>
<line x1="1867.6" y1="1221.9" x2="1890.4" y2="1221.9"/>
<line x1="1867.6" y1="1156.5" x2="1876.6" y2="1156.5"/>
<line x1="1867.6" y1="1091.1" x2="1890.4" y2="1091.1"/>
<line x1="1867.6" y1="1025.8" x2="1876.6" y2="1025.8"/>
<line x1="1867.6" y1="960.4" x2="1890.4" y2="960.4"/>
<line x1="1867.6" y1="895.0" x2="1876.6" y2="895.0"/>
<line x1="1867.6" y1="829.7" x2="1890.4" y2="829.7"/>
<line x1="1867.6" y1="764.3" x2="1876.6" y2="764.3"/>
<line x1="1867.6" y1="698.9" x2="1890.4" y2="698.9"/>
<line x1="1867.6" y1="633.6" x2="1876.6" y2="633.6"/>
<line x1="1867.6" y1="568.2" x2="1890.4" y2="568.2"/>
<line x1="1867.6" y1="502.9" x2="1876.6" y2="502.9"/>
<line x1="1867.6" y1="437.5" x2="1890.4" y2="437.5"/>
<line x1="1867.6" y1="372.1" x2="1876.6" y2="372.1"/>
<line x1="1867.6" y1="306.8" x2="1890.4" y2="306.8"/>
<line x1="1867.6" y1="241.4" x2="1876.6" y2="241.4"/>
<line x1="1867.6" y1="176.0" x2="1890.4" y2="176.0"/>
<line x1="1867.6" y1="110.7" x2="1876.6" y2="110.7"/>
<line x1="1867.6" y1="45.8" x2="1890.4" y2="45.8"/>
</g>
<text transform="translate(199.5,1363.7) scale(1,1.045)" class="t57" text-anchor="end">0.0</text>
<text transform="translate(199.5,1126.9) scale(1,1.045)" class="t57" text-anchor="end">0.2</text>
<text transform="translate(199.5,890.2) scale(1,1.045)" class="t57" text-anchor="end">0.4</text>
<text transform="translate(199.5,653.4) scale(1,1.045)" class="t57" text-anchor="end">0.6</text>
<text transform="translate(199.5,416.7) scale(1,1.045)" class="t57" text-anchor="end">0.8</text>
<text transform="translate(199.5,179.9) scale(1,1.045)" class="t57" text-anchor="end">1.0</text>
<text transform="translate(1910.5,1368.6) scale(1,1.045)" class="t57">-0.10</text>
<text transform="translate(1910.5,1237.9) scale(1,1.045)" class="t57">-0.08</text>
<text transform="translate(1910.5,1107.1) scale(1,1.045)" class="t57">-0.06</text>
<text transform="translate(1910.5,976.4) scale(1,1.045)" class="t57">-0.04</text>
<text transform="translate(1910.5,845.7) scale(1,1.045)" class="t57">-0.02</text>
<text transform="translate(1910.5,714.9) scale(1,1.045)" class="t57">0.00</text>
<text transform="translate(1910.5,584.2) scale(1,1.045)" class="t57">0.02</text>
<text transform="translate(1910.5,453.5) scale(1,1.045)" class="t57">0.04</text>
<text transform="translate(1910.5,322.8) scale(1,1.045)" class="t57">0.06</text>
<text transform="translate(1910.5,192.0) scale(1,1.045)" class="t57">0.08</text>
<text transform="translate(1910.5,61.3) scale(1,1.045)" class="t57">0.10</text>
<text transform="translate(393.9,1440.8) scale(1,1.045)" class="t57" text-anchor="middle">3500</text>
<text transform="translate(648.0,1440.8) scale(1,1.045)" class="t57" text-anchor="middle">3000</text>
<text transform="translate(902.0,1440.8) scale(1,1.045)" class="t57" text-anchor="middle">2500</text>
<text transform="translate(1156.1,1440.8) scale(1,1.045)" class="t57" text-anchor="middle">2000</text>
<text transform="translate(1410.1,1440.8) scale(1,1.045)" class="t57" text-anchor="middle">1500</text>
<text transform="translate(1664.2,1440.8) scale(1,1.045)" class="t57" text-anchor="middle">1000</text>
<text transform="translate(796.0,1558.7) scale(1,1.045)" class="t68">Waleventh (cm<tspan dy="-27" class="sup">-1</tspan><tspan dy="27" dx="2">)</tspan></text>
<text transform="translate(76.5,977.0) rotate(-90) scale(1,1.045)" class="t68r">Absorbance (A.U.)</text>
<text transform="translate(2106.5,1069.4) rotate(-90) scale(1,1.045)" class="t70r">Substraction result (A.U.)</text>
</g>
</svg>
</body></html>
